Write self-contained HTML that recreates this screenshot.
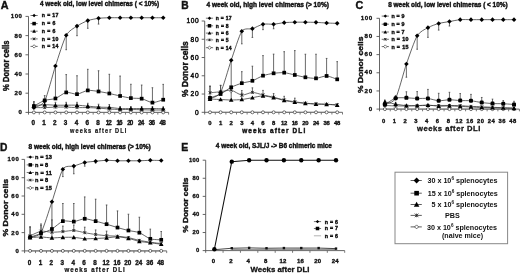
<!DOCTYPE html>
<html><head><meta charset="utf-8"><style>
html,body{margin:0;padding:0;background:#fff;}
svg{display:block;font-family:"Liberation Sans",sans-serif;will-change:transform;}
text{stroke:#111;stroke-width:0.4px;paint-order:stroke;}
</style></head><body>
<svg width="520" height="273" viewBox="0 0 520 273">
<rect width="520" height="273" fill="#fff"/>
<g>
<text x="0.8" y="8.8" font-size="10.4" font-weight="bold" text-anchor="start" fill="#111" textLength="7.8" lengthAdjust="spacingAndGlyphs" >A</text>
<text x="40" y="6.1" font-size="6.6" font-weight="bold" text-anchor="start" fill="#111" textLength="119.2" lengthAdjust="spacingAndGlyphs" >4 week old, low level chimeras ( &lt; 10%)</text>
<path d="M28.5,16.4 L28.5,114.6" stroke="#555" stroke-width="0.9" fill="none"/>
<path d="M25.5,112.4 L168.6,112.4" stroke="#555" stroke-width="0.9" fill="none"/>
<path d="M25.5,93.2 L28.5,93.2" stroke="#555" stroke-width="0.9"/>
<path d="M25.5,74 L28.5,74" stroke="#555" stroke-width="0.9"/>
<path d="M25.5,54.8 L28.5,54.8" stroke="#555" stroke-width="0.9"/>
<path d="M25.5,35.6 L28.5,35.6" stroke="#555" stroke-width="0.9"/>
<path d="M25.5,16.4 L28.5,16.4" stroke="#555" stroke-width="0.9"/>
<path d="M39.28,112.4 L39.28,114.6" stroke="#555" stroke-width="0.8"/>
<path d="M50.05,112.4 L50.05,114.6" stroke="#555" stroke-width="0.8"/>
<path d="M60.83,112.4 L60.83,114.6" stroke="#555" stroke-width="0.8"/>
<path d="M71.61,112.4 L71.61,114.6" stroke="#555" stroke-width="0.8"/>
<path d="M82.38,112.4 L82.38,114.6" stroke="#555" stroke-width="0.8"/>
<path d="M93.16,112.4 L93.16,114.6" stroke="#555" stroke-width="0.8"/>
<path d="M103.94,112.4 L103.94,114.6" stroke="#555" stroke-width="0.8"/>
<path d="M114.72,112.4 L114.72,114.6" stroke="#555" stroke-width="0.8"/>
<path d="M125.49,112.4 L125.49,114.6" stroke="#555" stroke-width="0.8"/>
<path d="M136.27,112.4 L136.27,114.6" stroke="#555" stroke-width="0.8"/>
<path d="M147.05,112.4 L147.05,114.6" stroke="#555" stroke-width="0.8"/>
<path d="M157.82,112.4 L157.82,114.6" stroke="#555" stroke-width="0.8"/>
<path d="M168.6,112.4 L168.6,114.6" stroke="#555" stroke-width="0.8"/>
<text x="21.9" y="114.4" font-size="6.1" font-weight="bold" text-anchor="end" fill="#111" textLength="3.7" lengthAdjust="spacing"  style="stroke-width:0.32px">0</text>
<text x="21.9" y="95.2" font-size="6.1" font-weight="bold" text-anchor="end" fill="#111" textLength="7.4" lengthAdjust="spacing"  style="stroke-width:0.32px">20</text>
<text x="21.9" y="76" font-size="6.1" font-weight="bold" text-anchor="end" fill="#111" textLength="7.4" lengthAdjust="spacing"  style="stroke-width:0.32px">40</text>
<text x="21.9" y="56.8" font-size="6.1" font-weight="bold" text-anchor="end" fill="#111" textLength="7.4" lengthAdjust="spacing"  style="stroke-width:0.32px">60</text>
<text x="21.9" y="37.6" font-size="6.1" font-weight="bold" text-anchor="end" fill="#111" textLength="7.4" lengthAdjust="spacing"  style="stroke-width:0.32px">80</text>
<text x="21.9" y="18.4" font-size="6.1" font-weight="bold" text-anchor="end" fill="#111" textLength="11.1" lengthAdjust="spacing"  style="stroke-width:0.32px">100</text>
<text x="33.29" y="125.4" font-size="6.3" font-weight="bold" text-anchor="middle" fill="#111" textLength="3.1" lengthAdjust="spacing"  style="stroke-width:0.35px">0</text>
<text x="44.07" y="125.4" font-size="6.3" font-weight="bold" text-anchor="middle" fill="#111" textLength="3.1" lengthAdjust="spacing"  style="stroke-width:0.35px">1</text>
<text x="54.84" y="125.4" font-size="6.3" font-weight="bold" text-anchor="middle" fill="#111" textLength="3.1" lengthAdjust="spacing"  style="stroke-width:0.35px">2</text>
<text x="65.62" y="125.4" font-size="6.3" font-weight="bold" text-anchor="middle" fill="#111" textLength="3.1" lengthAdjust="spacing"  style="stroke-width:0.35px">3</text>
<text x="76.4" y="125.4" font-size="6.3" font-weight="bold" text-anchor="middle" fill="#111" textLength="3.1" lengthAdjust="spacing"  style="stroke-width:0.35px">4</text>
<text x="87.17" y="125.4" font-size="6.3" font-weight="bold" text-anchor="middle" fill="#111" textLength="3.1" lengthAdjust="spacing"  style="stroke-width:0.35px">6</text>
<text x="97.95" y="125.4" font-size="6.3" font-weight="bold" text-anchor="middle" fill="#111" textLength="3.1" lengthAdjust="spacing"  style="stroke-width:0.35px">8</text>
<text x="108.73" y="125.4" font-size="6.3" font-weight="bold" text-anchor="middle" fill="#111" textLength="6.2" lengthAdjust="spacing"  style="stroke-width:0.35px">12</text>
<text x="119.5" y="125.4" font-size="6.3" font-weight="bold" text-anchor="middle" fill="#111" textLength="6.2" lengthAdjust="spacing"  style="stroke-width:0.35px">16</text>
<text x="130.28" y="125.4" font-size="6.3" font-weight="bold" text-anchor="middle" fill="#111" textLength="6.2" lengthAdjust="spacing"  style="stroke-width:0.35px">20</text>
<text x="141.06" y="125.4" font-size="6.3" font-weight="bold" text-anchor="middle" fill="#111" textLength="6.2" lengthAdjust="spacing"  style="stroke-width:0.35px">24</text>
<text x="151.83" y="125.4" font-size="6.3" font-weight="bold" text-anchor="middle" fill="#111" textLength="6.2" lengthAdjust="spacing"  style="stroke-width:0.35px">36</text>
<text x="162.61" y="125.4" font-size="6.3" font-weight="bold" text-anchor="middle" fill="#111" textLength="6.2" lengthAdjust="spacing"  style="stroke-width:0.35px">48</text>
<text transform="translate(8.5,65.7) rotate(-90) scale(1,1)" x="0" y="0" font-size="8.2" font-weight="bold" text-anchor="middle" fill="#111" textLength="50.4" lengthAdjust="spacingAndGlyphs">% Donor cells</text>
<text transform="translate(70.1,132.5) scale(0.85,1)" x="0" y="0" font-size="6.6" font-weight="bold" fill="#111" textLength="66" lengthAdjust="spacing" style="stroke-width:0.2px">weeks after DLI</text>
<path d="M30.5,15.5 L37.7,15.5" stroke="#444" stroke-width="0.75"/>
<path d="M34.1,13.78 L35.83,15.5 L34.1,17.23 L32.38,15.5Z" fill="#000"/>
<text x="41.8" y="17.3" font-size="5.2" font-weight="bold" text-anchor="start" fill="#111" textLength="16.7" lengthAdjust="spacing" >n = 17</text>
<path d="M30.5,23.6 L37.7,23.6" stroke="#444" stroke-width="0.75"/>
<rect x="32.34" y="21.84" width="3.52" height="3.52" fill="#000"/>
<text x="41.8" y="25.4" font-size="5.2" font-weight="bold" text-anchor="start" fill="#111" textLength="13.5" lengthAdjust="spacing" >n = 6</text>
<path d="M30.5,31.2 L37.7,31.2" stroke="#444" stroke-width="0.75"/>
<path d="M34.1,29.36 L35.94,32.67 L32.26,32.67Z" fill="#000"/>
<text x="41.8" y="33" font-size="5.2" font-weight="bold" text-anchor="start" fill="#111" textLength="13.5" lengthAdjust="spacing" >n = 6</text>
<path d="M30.5,38.9 L37.7,38.9" stroke="#444" stroke-width="0.75"/>
<path d="M32.83,37.62 L35.38,40.17 M32.83,40.17 L35.38,37.62 M34.1,37.62 L34.1,40.17" stroke="#222" stroke-width="0.8" fill="none"/>
<text x="41.8" y="40.7" font-size="5.2" font-weight="bold" text-anchor="start" fill="#111" textLength="16.7" lengthAdjust="spacing" >n = 10</text>
<path d="M30.5,46.4 L37.7,46.4" stroke="#444" stroke-width="0.75"/>
<path d="M34.1,44.7 L35.8,46.4 L34.1,48.1 L32.4,46.4Z" fill="#fff" stroke="#333" stroke-width="0.65"/>
<text x="41.8" y="48.2" font-size="5.2" font-weight="bold" text-anchor="start" fill="#111" textLength="16.7" lengthAdjust="spacing" >n = 14</text>
<path d="M33.89,105.68 L33.89,101.84 M33.09,101.84 L34.69,101.84" stroke="#444" stroke-width="0.8" fill="none"/>
<path d="M44.67,104.72 L44.67,101.84 M43.87,101.84 L45.47,101.84" stroke="#444" stroke-width="0.8" fill="none"/>
<path d="M55.44,105.2 L55.44,102.32 M54.64,102.32 L56.24,102.32" stroke="#444" stroke-width="0.8" fill="none"/>
<path d="M66.22,105.2 L66.22,102.32 M65.42,102.32 L67.02,102.32" stroke="#444" stroke-width="0.8" fill="none"/>
<path d="M77,105.2 L77,102.32 M76.2,102.32 L77.8,102.32" stroke="#444" stroke-width="0.8" fill="none"/>
<path d="M87.77,106.16 L87.77,103.28 M86.97,103.28 L88.57,103.28" stroke="#444" stroke-width="0.8" fill="none"/>
<path d="M98.55,107.12 L98.55,104.24 M97.75,104.24 L99.35,104.24" stroke="#444" stroke-width="0.8" fill="none"/>
<path d="M109.33,107.41 L109.33,104.53 M108.53,104.53 L110.13,104.53" stroke="#444" stroke-width="0.8" fill="none"/>
<path d="M120.1,108.56 L120.1,106.64 M119.3,106.64 L120.9,106.64" stroke="#444" stroke-width="0.8" fill="none"/>
<path d="M130.88,108.56 L130.88,106.64 M130.08,106.64 L131.68,106.64" stroke="#444" stroke-width="0.8" fill="none"/>
<path d="M141.66,108.56 L141.66,106.64 M140.86,106.64 L142.46,106.64" stroke="#444" stroke-width="0.8" fill="none"/>
<path d="M152.43,108.56 L152.43,106.64 M151.63,106.64 L153.23,106.64" stroke="#444" stroke-width="0.8" fill="none"/>
<path d="M163.21,108.75 L163.21,106.83 M162.41,106.83 L164.01,106.83" stroke="#444" stroke-width="0.8" fill="none"/>
<path d="M33.89,106.06 L33.89,101.74 M33.09,101.74 L34.69,101.74" stroke="#444" stroke-width="0.8" fill="none"/>
<path d="M44.67,100.4 L44.67,95.6 M43.87,95.6 L45.47,95.6" stroke="#444" stroke-width="0.8" fill="none"/>
<path d="M66.22,92.43 L66.22,74.58 M65.42,74.58 L67.02,74.58" stroke="#444" stroke-width="0.8" fill="none"/>
<path d="M77,94.16 L77,75.73 M76.2,75.73 L77.8,75.73" stroke="#444" stroke-width="0.8" fill="none"/>
<path d="M87.77,90.42 L87.77,69.3 M86.97,69.3 L88.57,69.3" stroke="#444" stroke-width="0.8" fill="none"/>
<path d="M98.55,91.47 L98.55,70.74 M97.75,70.74 L99.35,70.74" stroke="#444" stroke-width="0.8" fill="none"/>
<path d="M109.33,93.49 L109.33,74.29 M108.53,74.29 L110.13,74.29" stroke="#444" stroke-width="0.8" fill="none"/>
<path d="M120.1,95.98 L120.1,76.02 M119.3,76.02 L120.9,76.02" stroke="#444" stroke-width="0.8" fill="none"/>
<path d="M130.88,98.1 L130.88,84.27 M130.08,84.27 L131.68,84.27" stroke="#444" stroke-width="0.8" fill="none"/>
<path d="M141.66,98.67 L141.66,85.04 M140.86,85.04 L142.46,85.04" stroke="#444" stroke-width="0.8" fill="none"/>
<path d="M152.43,102.61 L152.43,87.73 M151.63,87.73 L153.23,87.73" stroke="#444" stroke-width="0.8" fill="none"/>
<path d="M163.21,99.73 L163.21,84.37 M162.41,84.37 L164.01,84.37" stroke="#444" stroke-width="0.8" fill="none"/>
<path d="M55.44,66.03 L55.44,98.67 M54.64,98.67 L56.24,98.67" stroke="#444" stroke-width="0.8" fill="none"/>
<path d="M66.22,35.31 L66.22,49.71 M65.42,49.71 L67.02,49.71" stroke="#444" stroke-width="0.8" fill="none"/>
<path d="M77,26.1 L77,35.7 M76.2,35.7 L77.8,35.7" stroke="#444" stroke-width="0.8" fill="none"/>
<path d="M87.77,20.62 L87.77,28.3 M86.97,28.3 L88.57,28.3" stroke="#444" stroke-width="0.8" fill="none"/>
<path d="M98.55,18.32 L98.55,24.08 M97.75,24.08 L99.35,24.08" stroke="#444" stroke-width="0.8" fill="none"/>
<path d="M33.89,112.4 C35.18,112.4 42.08,112.4 44.67,112.4 C47.25,112.4 52.86,112.4 55.44,112.4 C58.03,112.4 63.63,112.4 66.22,112.4 C68.81,112.4 74.41,112.4 77,112.4 C79.58,112.4 85.19,112.4 87.77,112.4 C90.36,112.4 95.96,112.4 98.55,112.4 C101.14,112.4 106.74,112.4 109.33,112.4 C111.91,112.4 117.52,112.4 120.1,112.4 C122.69,112.4 128.29,112.4 130.88,112.4 C133.47,112.4 139.07,112.4 141.66,112.4 C144.24,112.4 149.85,112.4 152.43,112.4 C155.02,112.4 161.92,112.4 163.21,112.4" stroke="#777" stroke-width="0.75" fill="none"/>
<path d="M33.89,107.6 C35.18,107.6 42.08,107.66 44.67,107.6 C47.25,107.54 52.86,107.18 55.44,107.12 C58.03,107.06 63.63,107.06 66.22,107.12 C68.81,107.18 74.41,107.54 77,107.6 C79.58,107.66 85.19,107.54 87.77,107.6 C90.36,107.66 95.96,107.91 98.55,108.08 C101.14,108.25 106.74,108.87 109.33,109.04 C111.91,109.21 117.52,109.46 120.1,109.52 C122.69,109.58 128.29,109.5 130.88,109.52 C133.47,109.54 139.07,109.65 141.66,109.71 C144.24,109.77 149.85,109.97 152.43,110 C155.02,110.03 161.92,110 163.21,110" stroke="#3a3a3a" stroke-width="0.75" fill="none"/>
<path d="M33.89,105.68 C35.18,105.56 42.08,104.78 44.67,104.72 C47.25,104.66 52.86,105.14 55.44,105.2 C58.03,105.26 63.63,105.2 66.22,105.2 C68.81,105.2 74.41,105.08 77,105.2 C79.58,105.32 85.19,105.93 87.77,106.16 C90.36,106.39 95.96,106.97 98.55,107.12 C101.14,107.27 106.74,107.24 109.33,107.41 C111.91,107.58 117.52,108.42 120.1,108.56 C122.69,108.7 128.29,108.56 130.88,108.56 C133.47,108.56 139.07,108.56 141.66,108.56 C144.24,108.56 149.85,108.54 152.43,108.56 C155.02,108.58 161.92,108.73 163.21,108.75" stroke="#333" stroke-width="0.75" fill="none"/>
<path d="M33.89,106.06 C35.18,105.38 42.08,101.31 44.67,100.4 C47.25,99.49 52.86,99.44 55.44,98.48 C58.03,97.52 63.63,92.95 66.22,92.43 C68.81,91.91 74.41,94.4 77,94.16 C79.58,93.92 85.19,90.74 87.77,90.42 C90.36,90.09 95.96,91.1 98.55,91.47 C101.14,91.84 106.74,92.95 109.33,93.49 C111.91,94.03 117.52,95.43 120.1,95.98 C122.69,96.54 128.29,97.77 130.88,98.1 C133.47,98.42 139.07,98.13 141.66,98.67 C144.24,99.21 149.85,102.48 152.43,102.61 C155.02,102.73 161.92,100.07 163.21,99.73" stroke="#333" stroke-width="0.75" fill="none"/>
<path d="M33.89,107.6 C35.18,106.82 42.08,106.06 44.67,101.07 C47.25,96.08 52.86,73.92 55.44,66.03 C58.03,58.14 63.63,40.1 66.22,35.31 C68.81,30.52 74.41,27.86 77,26.1 C79.58,24.33 85.19,21.56 87.77,20.62 C90.36,19.69 95.96,18.67 98.55,18.32 C101.14,17.97 106.74,17.81 109.33,17.74 C111.91,17.67 117.52,17.74 120.1,17.74 C122.69,17.74 128.29,17.74 130.88,17.74 C133.47,17.74 139.07,17.74 141.66,17.74 C144.24,17.74 149.85,17.74 152.43,17.74 C155.02,17.74 161.92,17.74 163.21,17.74" stroke="#333" stroke-width="0.75" fill="none"/>
<circle cx="33.89" cy="112.4" r="1.5" fill="#fff" stroke="#333" stroke-width="0.7"/>
<circle cx="44.67" cy="112.4" r="1.5" fill="#fff" stroke="#333" stroke-width="0.7"/>
<circle cx="55.44" cy="112.4" r="1.5" fill="#fff" stroke="#333" stroke-width="0.7"/>
<circle cx="66.22" cy="112.4" r="1.5" fill="#fff" stroke="#333" stroke-width="0.7"/>
<circle cx="77" cy="112.4" r="1.5" fill="#fff" stroke="#333" stroke-width="0.7"/>
<circle cx="87.77" cy="112.4" r="1.5" fill="#fff" stroke="#333" stroke-width="0.7"/>
<circle cx="98.55" cy="112.4" r="1.5" fill="#fff" stroke="#333" stroke-width="0.7"/>
<circle cx="109.33" cy="112.4" r="1.5" fill="#fff" stroke="#333" stroke-width="0.7"/>
<circle cx="120.1" cy="112.4" r="1.5" fill="#fff" stroke="#333" stroke-width="0.7"/>
<circle cx="130.88" cy="112.4" r="1.5" fill="#fff" stroke="#333" stroke-width="0.7"/>
<circle cx="141.66" cy="112.4" r="1.5" fill="#fff" stroke="#333" stroke-width="0.7"/>
<circle cx="152.43" cy="112.4" r="1.5" fill="#fff" stroke="#333" stroke-width="0.7"/>
<circle cx="163.21" cy="112.4" r="1.5" fill="#fff" stroke="#333" stroke-width="0.7"/>
<path d="M32.39,106.1 L35.39,109.1 M32.39,109.1 L35.39,106.1 M33.89,106.1 L33.89,109.1" stroke="#222" stroke-width="0.8" fill="none"/>
<path d="M43.17,106.1 L46.17,109.1 M43.17,109.1 L46.17,106.1 M44.67,106.1 L44.67,109.1" stroke="#222" stroke-width="0.8" fill="none"/>
<path d="M53.94,105.62 L56.94,108.62 M53.94,108.62 L56.94,105.62 M55.44,105.62 L55.44,108.62" stroke="#222" stroke-width="0.8" fill="none"/>
<path d="M64.72,105.62 L67.72,108.62 M64.72,108.62 L67.72,105.62 M66.22,105.62 L66.22,108.62" stroke="#222" stroke-width="0.8" fill="none"/>
<path d="M75.5,106.1 L78.5,109.1 M75.5,109.1 L78.5,106.1 M77,106.1 L77,109.1" stroke="#222" stroke-width="0.8" fill="none"/>
<path d="M86.27,106.1 L89.27,109.1 M86.27,109.1 L89.27,106.1 M87.77,106.1 L87.77,109.1" stroke="#222" stroke-width="0.8" fill="none"/>
<path d="M97.05,106.58 L100.05,109.58 M97.05,109.58 L100.05,106.58 M98.55,106.58 L98.55,109.58" stroke="#222" stroke-width="0.8" fill="none"/>
<path d="M107.83,107.54 L110.83,110.54 M107.83,110.54 L110.83,107.54 M109.33,107.54 L109.33,110.54" stroke="#222" stroke-width="0.8" fill="none"/>
<path d="M118.6,108.02 L121.6,111.02 M118.6,111.02 L121.6,108.02 M120.1,108.02 L120.1,111.02" stroke="#222" stroke-width="0.8" fill="none"/>
<path d="M129.38,108.02 L132.38,111.02 M129.38,111.02 L132.38,108.02 M130.88,108.02 L130.88,111.02" stroke="#222" stroke-width="0.8" fill="none"/>
<path d="M140.16,108.21 L143.16,111.21 M140.16,111.21 L143.16,108.21 M141.66,108.21 L141.66,111.21" stroke="#222" stroke-width="0.8" fill="none"/>
<path d="M150.93,108.5 L153.93,111.5 M150.93,111.5 L153.93,108.5 M152.43,108.5 L152.43,111.5" stroke="#222" stroke-width="0.8" fill="none"/>
<path d="M161.71,108.5 L164.71,111.5 M161.71,111.5 L164.71,108.5 M163.21,108.5 L163.21,111.5" stroke="#222" stroke-width="0.8" fill="none"/>
<path d="M33.89,103.38 L36.19,107.52 L31.59,107.52Z" fill="#000"/>
<path d="M44.67,102.42 L46.97,106.56 L42.37,106.56Z" fill="#000"/>
<path d="M55.44,102.9 L57.74,107.04 L53.14,107.04Z" fill="#000"/>
<path d="M66.22,102.9 L68.52,107.04 L63.92,107.04Z" fill="#000"/>
<path d="M77,102.9 L79.3,107.04 L74.7,107.04Z" fill="#000"/>
<path d="M87.77,103.86 L90.07,108 L85.47,108Z" fill="#000"/>
<path d="M98.55,104.82 L100.85,108.96 L96.25,108.96Z" fill="#000"/>
<path d="M109.33,105.11 L111.63,109.25 L107.03,109.25Z" fill="#000"/>
<path d="M120.1,106.26 L122.4,110.4 L117.8,110.4Z" fill="#000"/>
<path d="M130.88,106.26 L133.18,110.4 L128.58,110.4Z" fill="#000"/>
<path d="M141.66,106.26 L143.96,110.4 L139.36,110.4Z" fill="#000"/>
<path d="M152.43,106.26 L154.73,110.4 L150.13,110.4Z" fill="#000"/>
<path d="M163.21,106.45 L165.51,110.59 L160.91,110.59Z" fill="#000"/>
<rect x="32.04" y="104.21" width="3.7" height="3.7" fill="#000"/>
<rect x="42.82" y="98.55" width="3.7" height="3.7" fill="#000"/>
<rect x="53.59" y="96.63" width="3.7" height="3.7" fill="#000"/>
<rect x="64.37" y="90.58" width="3.7" height="3.7" fill="#000"/>
<rect x="75.15" y="92.31" width="3.7" height="3.7" fill="#000"/>
<rect x="85.92" y="88.57" width="3.7" height="3.7" fill="#000"/>
<rect x="96.7" y="89.62" width="3.7" height="3.7" fill="#000"/>
<rect x="107.48" y="91.64" width="3.7" height="3.7" fill="#000"/>
<rect x="118.25" y="94.13" width="3.7" height="3.7" fill="#000"/>
<rect x="129.03" y="96.25" width="3.7" height="3.7" fill="#000"/>
<rect x="139.81" y="96.82" width="3.7" height="3.7" fill="#000"/>
<rect x="150.58" y="100.76" width="3.7" height="3.7" fill="#000"/>
<rect x="161.36" y="97.88" width="3.7" height="3.7" fill="#000"/>
<path d="M33.89,105.3 L36.19,107.6 L33.89,109.9 L31.59,107.6Z" fill="#000"/>
<path d="M44.67,98.77 L46.97,101.07 L44.67,103.37 L42.37,101.07Z" fill="#000"/>
<path d="M55.44,63.73 L57.74,66.03 L55.44,68.33 L53.14,66.03Z" fill="#000"/>
<path d="M66.22,33.01 L68.52,35.31 L66.22,37.61 L63.92,35.31Z" fill="#000"/>
<path d="M77,23.8 L79.3,26.1 L77,28.4 L74.7,26.1Z" fill="#000"/>
<path d="M87.77,18.32 L90.07,20.62 L87.77,22.92 L85.47,20.62Z" fill="#000"/>
<path d="M98.55,16.02 L100.85,18.32 L98.55,20.62 L96.25,18.32Z" fill="#000"/>
<path d="M109.33,15.44 L111.63,17.74 L109.33,20.04 L107.03,17.74Z" fill="#000"/>
<path d="M120.1,15.44 L122.4,17.74 L120.1,20.04 L117.8,17.74Z" fill="#000"/>
<path d="M130.88,15.44 L133.18,17.74 L130.88,20.04 L128.58,17.74Z" fill="#000"/>
<path d="M141.66,15.44 L143.96,17.74 L141.66,20.04 L139.36,17.74Z" fill="#000"/>
<path d="M152.43,15.44 L154.73,17.74 L152.43,20.04 L150.13,17.74Z" fill="#000"/>
<path d="M163.21,15.44 L165.51,17.74 L163.21,20.04 L160.91,17.74Z" fill="#000"/>
</g>
<g>
<text x="181.2" y="8.9" font-size="10" font-weight="bold" text-anchor="start" fill="#111" textLength="7.4" lengthAdjust="spacingAndGlyphs" >B</text>
<text x="206.5" y="6.7" font-size="6.3" font-weight="bold" text-anchor="start" fill="#111" textLength="122.4" lengthAdjust="spacingAndGlyphs" >4 week old, high level chimeras (&gt; 10%)</text>
<path d="M204.7,21 L204.7,114.5" stroke="#555" stroke-width="0.9" fill="none"/>
<path d="M201.7,112.3 L342.5,112.3" stroke="#555" stroke-width="0.9" fill="none"/>
<path d="M201.7,94.04 L204.7,94.04" stroke="#555" stroke-width="0.9"/>
<path d="M201.7,75.78 L204.7,75.78" stroke="#555" stroke-width="0.9"/>
<path d="M201.7,57.52 L204.7,57.52" stroke="#555" stroke-width="0.9"/>
<path d="M201.7,39.26 L204.7,39.26" stroke="#555" stroke-width="0.9"/>
<path d="M201.7,21 L204.7,21" stroke="#555" stroke-width="0.9"/>
<path d="M215.3,112.3 L215.3,114.5" stroke="#555" stroke-width="0.8"/>
<path d="M225.9,112.3 L225.9,114.5" stroke="#555" stroke-width="0.8"/>
<path d="M236.5,112.3 L236.5,114.5" stroke="#555" stroke-width="0.8"/>
<path d="M247.1,112.3 L247.1,114.5" stroke="#555" stroke-width="0.8"/>
<path d="M257.7,112.3 L257.7,114.5" stroke="#555" stroke-width="0.8"/>
<path d="M268.3,112.3 L268.3,114.5" stroke="#555" stroke-width="0.8"/>
<path d="M278.9,112.3 L278.9,114.5" stroke="#555" stroke-width="0.8"/>
<path d="M289.5,112.3 L289.5,114.5" stroke="#555" stroke-width="0.8"/>
<path d="M300.1,112.3 L300.1,114.5" stroke="#555" stroke-width="0.8"/>
<path d="M310.7,112.3 L310.7,114.5" stroke="#555" stroke-width="0.8"/>
<path d="M321.3,112.3 L321.3,114.5" stroke="#555" stroke-width="0.8"/>
<path d="M331.9,112.3 L331.9,114.5" stroke="#555" stroke-width="0.8"/>
<path d="M342.5,112.3 L342.5,114.5" stroke="#555" stroke-width="0.8"/>
<text x="198.6" y="114.6" font-size="6.6" font-weight="normal" text-anchor="end" fill="#111" textLength="4" lengthAdjust="spacing"  style="stroke-width:0.45px">0</text>
<text x="198.6" y="96.34" font-size="6.6" font-weight="normal" text-anchor="end" fill="#111" textLength="8" lengthAdjust="spacing"  style="stroke-width:0.45px">20</text>
<text x="198.6" y="78.08" font-size="6.6" font-weight="normal" text-anchor="end" fill="#111" textLength="8" lengthAdjust="spacing"  style="stroke-width:0.45px">40</text>
<text x="198.6" y="59.82" font-size="6.6" font-weight="normal" text-anchor="end" fill="#111" textLength="8" lengthAdjust="spacing"  style="stroke-width:0.45px">60</text>
<text x="198.6" y="41.56" font-size="6.6" font-weight="normal" text-anchor="end" fill="#111" textLength="8" lengthAdjust="spacing"  style="stroke-width:0.45px">80</text>
<text x="198.6" y="23.3" font-size="6.6" font-weight="normal" text-anchor="end" fill="#111" textLength="12" lengthAdjust="spacing"  style="stroke-width:0.45px">100</text>
<text x="210" y="124.9" font-size="5.9" font-weight="bold" text-anchor="middle" fill="#111" textLength="3.1" lengthAdjust="spacing"  style="stroke-width:0.35px">0</text>
<text x="220.6" y="124.9" font-size="5.9" font-weight="bold" text-anchor="middle" fill="#111" textLength="3.1" lengthAdjust="spacing"  style="stroke-width:0.35px">1</text>
<text x="231.2" y="124.9" font-size="5.9" font-weight="bold" text-anchor="middle" fill="#111" textLength="3.1" lengthAdjust="spacing"  style="stroke-width:0.35px">2</text>
<text x="241.8" y="124.9" font-size="5.9" font-weight="bold" text-anchor="middle" fill="#111" textLength="3.1" lengthAdjust="spacing"  style="stroke-width:0.35px">3</text>
<text x="252.4" y="124.9" font-size="5.9" font-weight="bold" text-anchor="middle" fill="#111" textLength="3.1" lengthAdjust="spacing"  style="stroke-width:0.35px">4</text>
<text x="263" y="124.9" font-size="5.9" font-weight="bold" text-anchor="middle" fill="#111" textLength="3.1" lengthAdjust="spacing"  style="stroke-width:0.35px">6</text>
<text x="273.6" y="124.9" font-size="5.9" font-weight="bold" text-anchor="middle" fill="#111" textLength="3.1" lengthAdjust="spacing"  style="stroke-width:0.35px">8</text>
<text x="284.2" y="124.9" font-size="5.9" font-weight="bold" text-anchor="middle" fill="#111" textLength="6.2" lengthAdjust="spacing"  style="stroke-width:0.35px">12</text>
<text x="294.8" y="124.9" font-size="5.9" font-weight="bold" text-anchor="middle" fill="#111" textLength="6.2" lengthAdjust="spacing"  style="stroke-width:0.35px">16</text>
<text x="305.4" y="124.9" font-size="5.9" font-weight="bold" text-anchor="middle" fill="#111" textLength="6.2" lengthAdjust="spacing"  style="stroke-width:0.35px">20</text>
<text x="316" y="124.9" font-size="5.9" font-weight="bold" text-anchor="middle" fill="#111" textLength="6.2" lengthAdjust="spacing"  style="stroke-width:0.35px">24</text>
<text x="326.6" y="124.9" font-size="5.9" font-weight="bold" text-anchor="middle" fill="#111" textLength="6.2" lengthAdjust="spacing"  style="stroke-width:0.35px">36</text>
<text x="337.2" y="124.9" font-size="5.9" font-weight="bold" text-anchor="middle" fill="#111" textLength="6.2" lengthAdjust="spacing"  style="stroke-width:0.35px">48</text>
<text transform="translate(188,69.1) rotate(-90) scale(1,1)" x="0" y="0" font-size="8.2" font-weight="bold" text-anchor="middle" fill="#111" textLength="55.6" lengthAdjust="spacingAndGlyphs">% Donor cells</text>
<text transform="translate(242.2,133.3) scale(0.9,1)" x="0" y="0" font-size="7.2" font-weight="bold" fill="#111" textLength="70" lengthAdjust="spacing" style="stroke-width:0.45px">weeks after DLI</text>
<path d="M205.9,18.2 L213.1,18.2" stroke="#444" stroke-width="0.75"/>
<path d="M209.5,16.47 L211.22,18.2 L209.5,19.93 L207.78,18.2Z" fill="#000"/>
<text x="215.8" y="20" font-size="5" font-weight="bold" text-anchor="start" fill="#111" textLength="15.7" lengthAdjust="spacing" >n = 17</text>
<path d="M205.9,25.8 L213.1,25.8" stroke="#444" stroke-width="0.75"/>
<rect x="207.74" y="24.04" width="3.52" height="3.52" fill="#000"/>
<text x="215.8" y="27.6" font-size="5" font-weight="bold" text-anchor="start" fill="#111" textLength="12.8" lengthAdjust="spacing" >n = 8</text>
<path d="M205.9,33.1 L213.1,33.1" stroke="#444" stroke-width="0.75"/>
<path d="M209.5,31.26 L211.34,34.57 L207.66,34.57Z" fill="#000"/>
<text x="215.8" y="34.9" font-size="5" font-weight="bold" text-anchor="start" fill="#111" textLength="12.8" lengthAdjust="spacing" >n = 6</text>
<path d="M205.9,39.9 L213.1,39.9" stroke="#444" stroke-width="0.75"/>
<path d="M208.22,38.62 L210.78,41.17 M208.22,41.17 L210.78,38.62 M209.5,38.62 L209.5,41.17" stroke="#222" stroke-width="0.8" fill="none"/>
<text x="215.8" y="41.7" font-size="5" font-weight="bold" text-anchor="start" fill="#111" textLength="12.8" lengthAdjust="spacing" >n = 5</text>
<path d="M205.9,47.7 L213.1,47.7" stroke="#444" stroke-width="0.75"/>
<path d="M209.5,46 L211.2,47.7 L209.5,49.4 L207.8,47.7Z" fill="#fff" stroke="#333" stroke-width="0.65"/>
<text x="215.8" y="49.5" font-size="5" font-weight="bold" text-anchor="start" fill="#111" textLength="15.7" lengthAdjust="spacing" >n = 14</text>
<path d="M210,92.76 L210,86.37 M209.2,86.37 L210.8,86.37" stroke="#444" stroke-width="0.8" fill="none"/>
<path d="M220.6,91.76 L220.6,85.37 M219.8,85.37 L221.4,85.37" stroke="#444" stroke-width="0.8" fill="none"/>
<path d="M241.8,95.14 L241.8,90.57 M241,90.57 L242.6,90.57" stroke="#444" stroke-width="0.8" fill="none"/>
<path d="M252.4,92.4 L252.4,87.83 M251.6,87.83 L253.2,87.83" stroke="#444" stroke-width="0.8" fill="none"/>
<path d="M263,94.95 L263,90.39 M262.2,90.39 L263.8,90.39" stroke="#444" stroke-width="0.8" fill="none"/>
<path d="M273.6,97.24 L273.6,93.58 M272.8,93.58 L274.4,93.58" stroke="#444" stroke-width="0.8" fill="none"/>
<path d="M284.2,99.97 L284.2,96.32 M283.4,96.32 L285,96.32" stroke="#444" stroke-width="0.8" fill="none"/>
<path d="M294.8,101.8 L294.8,98.15 M294,98.15 L295.6,98.15" stroke="#444" stroke-width="0.8" fill="none"/>
<path d="M231.2,99.97 L231.2,92.67 M230.4,92.67 L232,92.67" stroke="#444" stroke-width="0.8" fill="none"/>
<path d="M241.8,99.52 L241.8,93.13 M241,93.13 L242.6,93.13" stroke="#444" stroke-width="0.8" fill="none"/>
<path d="M210,97.87 L210,86.01 M209.2,86.01 L210.8,86.01" stroke="#444" stroke-width="0.8" fill="none"/>
<path d="M220.6,94.04 L220.6,85.37 M219.8,85.37 L221.4,85.37" stroke="#444" stroke-width="0.8" fill="none"/>
<path d="M231.2,87.28 L231.2,60.81 M230.4,60.81 L232,60.81" stroke="#444" stroke-width="0.8" fill="none"/>
<path d="M241.8,83.18 L241.8,71.67 M241,71.67 L242.6,71.67" stroke="#444" stroke-width="0.8" fill="none"/>
<path d="M252.4,80.8 L252.4,66.19 M251.6,66.19 L253.2,66.19" stroke="#444" stroke-width="0.8" fill="none"/>
<path d="M263,75.69 L263,55.6 M262.2,55.6 L263.8,55.6" stroke="#444" stroke-width="0.8" fill="none"/>
<path d="M273.6,73.31 L273.6,54.14 M272.8,54.14 L274.4,54.14" stroke="#444" stroke-width="0.8" fill="none"/>
<path d="M284.2,72.68 L284.2,51.68 M283.4,51.68 L285,51.68" stroke="#444" stroke-width="0.8" fill="none"/>
<path d="M294.8,74.96 L294.8,50.58 M294,50.58 L295.6,50.58" stroke="#444" stroke-width="0.8" fill="none"/>
<path d="M305.4,77.33 L305.4,54.23 M304.6,54.23 L306.2,54.23" stroke="#444" stroke-width="0.8" fill="none"/>
<path d="M316,78.34 L316,54.23 M315.2,54.23 L316.8,54.23" stroke="#444" stroke-width="0.8" fill="none"/>
<path d="M326.6,75.96 L326.6,58.43 M325.8,58.43 L327.4,58.43" stroke="#444" stroke-width="0.8" fill="none"/>
<path d="M337.2,79.34 L337.2,61.63 M336.4,61.63 L338,61.63" stroke="#444" stroke-width="0.8" fill="none"/>
<path d="M241.8,31.32 L241.8,43.83 M241,43.83 L242.6,43.83" stroke="#444" stroke-width="0.8" fill="none"/>
<path d="M252.4,28.67 L252.4,37.43 M251.6,37.43 L253.2,37.43" stroke="#444" stroke-width="0.8" fill="none"/>
<path d="M263,24.2 L263,29.67 M262.2,29.67 L263.8,29.67" stroke="#444" stroke-width="0.8" fill="none"/>
<path d="M273.6,24.2 L273.6,28.76 M272.8,28.76 L274.4,28.76" stroke="#444" stroke-width="0.8" fill="none"/>
<path d="M210,112.3 C211.27,112.3 218.06,112.3 220.6,112.3 C223.14,112.3 228.66,112.3 231.2,112.3 C233.74,112.3 239.26,112.3 241.8,112.3 C244.34,112.3 249.86,112.3 252.4,112.3 C254.94,112.3 260.46,112.3 263,112.3 C265.54,112.3 271.06,112.3 273.6,112.3 C276.14,112.3 281.66,112.3 284.2,112.3 C286.74,112.3 292.26,112.3 294.8,112.3 C297.34,112.3 302.86,112.3 305.4,112.3 C307.94,112.3 313.46,112.3 316,112.3 C318.54,112.3 324.06,112.3 326.6,112.3 C329.14,112.3 335.93,112.3 337.2,112.3" stroke="#777" stroke-width="0.75" fill="none"/>
<path d="M210,92.76 C211.27,92.64 218.06,92.06 220.6,91.76 C223.14,91.45 228.66,89.8 231.2,90.21 C233.74,90.61 239.26,94.87 241.8,95.14 C244.34,95.4 249.86,92.42 252.4,92.4 C254.94,92.37 260.46,94.37 263,94.95 C265.54,95.53 271.06,96.63 273.6,97.24 C276.14,97.84 281.66,99.43 284.2,99.97 C286.74,100.52 292.26,101.42 294.8,101.8 C297.34,102.18 302.86,102.92 305.4,103.17 C307.94,103.42 313.46,103.77 316,103.9 C318.54,104.03 324.06,104.16 326.6,104.27 C329.14,104.38 335.93,104.75 337.2,104.81" stroke="#3a3a3a" stroke-width="0.75" fill="none"/>
<path d="M210,99.06 C211.27,99.12 218.06,99.41 220.6,99.52 C223.14,99.63 228.66,99.97 231.2,99.97 C233.74,99.97 239.26,99.79 241.8,99.52 C244.34,99.24 249.86,98.13 252.4,97.69 C254.94,97.25 260.46,95.87 263,95.87 C265.54,95.87 271.06,97.14 273.6,97.69 C276.14,98.24 281.66,99.88 284.2,100.43 C286.74,100.98 292.26,101.91 294.8,102.26 C297.34,102.61 302.86,103.13 305.4,103.35 C307.94,103.57 313.46,103.96 316,104.08 C318.54,104.2 324.06,104.24 326.6,104.36 C329.14,104.48 335.93,105 337.2,105.09" stroke="#333" stroke-width="0.75" fill="none"/>
<path d="M210,97.87 C211.27,97.41 218.06,95.31 220.6,94.04 C223.14,92.77 228.66,88.59 231.2,87.28 C233.74,85.98 239.26,83.95 241.8,83.18 C244.34,82.4 249.86,81.7 252.4,80.8 C254.94,79.9 260.46,76.59 263,75.69 C265.54,74.79 271.06,73.68 273.6,73.31 C276.14,72.95 281.66,72.48 284.2,72.68 C286.74,72.87 292.26,74.4 294.8,74.96 C297.34,75.52 302.86,76.93 305.4,77.33 C307.94,77.74 313.46,78.5 316,78.34 C318.54,78.17 324.06,75.84 326.6,75.96 C329.14,76.08 335.93,78.94 337.2,79.34" stroke="#333" stroke-width="0.75" fill="none"/>
<path d="M210,98.6 C211.27,97.86 218.06,97 220.6,92.4 C223.14,87.8 228.66,67.59 231.2,60.26 C233.74,52.93 239.26,35.11 241.8,31.32 C244.34,27.53 249.86,29.52 252.4,28.67 C254.94,27.81 260.46,24.73 263,24.2 C265.54,23.66 271.06,24.38 273.6,24.2 C276.14,24.01 281.66,22.88 284.2,22.64 C286.74,22.4 292.26,22.24 294.8,22.19 C297.34,22.13 302.86,22.16 305.4,22.19 C307.94,22.21 313.46,22.27 316,22.37 C318.54,22.47 324.06,22.89 326.6,23.01 C329.14,23.13 335.93,23.33 337.2,23.37" stroke="#333" stroke-width="0.75" fill="none"/>
<circle cx="210" cy="112.3" r="1.5" fill="#fff" stroke="#333" stroke-width="0.7"/>
<circle cx="220.6" cy="112.3" r="1.5" fill="#fff" stroke="#333" stroke-width="0.7"/>
<circle cx="231.2" cy="112.3" r="1.5" fill="#fff" stroke="#333" stroke-width="0.7"/>
<circle cx="241.8" cy="112.3" r="1.5" fill="#fff" stroke="#333" stroke-width="0.7"/>
<circle cx="252.4" cy="112.3" r="1.5" fill="#fff" stroke="#333" stroke-width="0.7"/>
<circle cx="263" cy="112.3" r="1.5" fill="#fff" stroke="#333" stroke-width="0.7"/>
<circle cx="273.6" cy="112.3" r="1.5" fill="#fff" stroke="#333" stroke-width="0.7"/>
<circle cx="284.2" cy="112.3" r="1.5" fill="#fff" stroke="#333" stroke-width="0.7"/>
<circle cx="294.8" cy="112.3" r="1.5" fill="#fff" stroke="#333" stroke-width="0.7"/>
<circle cx="305.4" cy="112.3" r="1.5" fill="#fff" stroke="#333" stroke-width="0.7"/>
<circle cx="316" cy="112.3" r="1.5" fill="#fff" stroke="#333" stroke-width="0.7"/>
<circle cx="326.6" cy="112.3" r="1.5" fill="#fff" stroke="#333" stroke-width="0.7"/>
<circle cx="337.2" cy="112.3" r="1.5" fill="#fff" stroke="#333" stroke-width="0.7"/>
<path d="M208.5,91.26 L211.5,94.26 M208.5,94.26 L211.5,91.26 M210,91.26 L210,94.26" stroke="#222" stroke-width="0.8" fill="none"/>
<path d="M219.1,90.26 L222.1,93.26 M219.1,93.26 L222.1,90.26 M220.6,90.26 L220.6,93.26" stroke="#222" stroke-width="0.8" fill="none"/>
<path d="M229.7,88.71 L232.7,91.71 M229.7,91.71 L232.7,88.71 M231.2,88.71 L231.2,91.71" stroke="#222" stroke-width="0.8" fill="none"/>
<path d="M240.3,93.64 L243.3,96.64 M240.3,96.64 L243.3,93.64 M241.8,93.64 L241.8,96.64" stroke="#222" stroke-width="0.8" fill="none"/>
<path d="M250.9,90.9 L253.9,93.9 M250.9,93.9 L253.9,90.9 M252.4,90.9 L252.4,93.9" stroke="#222" stroke-width="0.8" fill="none"/>
<path d="M261.5,93.45 L264.5,96.45 M261.5,96.45 L264.5,93.45 M263,93.45 L263,96.45" stroke="#222" stroke-width="0.8" fill="none"/>
<path d="M272.1,95.74 L275.1,98.74 M272.1,98.74 L275.1,95.74 M273.6,95.74 L273.6,98.74" stroke="#222" stroke-width="0.8" fill="none"/>
<path d="M282.7,98.47 L285.7,101.47 M282.7,101.47 L285.7,98.47 M284.2,98.47 L284.2,101.47" stroke="#222" stroke-width="0.8" fill="none"/>
<path d="M293.3,100.3 L296.3,103.3 M293.3,103.3 L296.3,100.3 M294.8,100.3 L294.8,103.3" stroke="#222" stroke-width="0.8" fill="none"/>
<path d="M303.9,101.67 L306.9,104.67 M303.9,104.67 L306.9,101.67 M305.4,101.67 L305.4,104.67" stroke="#222" stroke-width="0.8" fill="none"/>
<path d="M314.5,102.4 L317.5,105.4 M314.5,105.4 L317.5,102.4 M316,102.4 L316,105.4" stroke="#222" stroke-width="0.8" fill="none"/>
<path d="M325.1,102.77 L328.1,105.77 M325.1,105.77 L328.1,102.77 M326.6,102.77 L326.6,105.77" stroke="#222" stroke-width="0.8" fill="none"/>
<path d="M335.7,103.31 L338.7,106.31 M335.7,106.31 L338.7,103.31 M337.2,103.31 L337.2,106.31" stroke="#222" stroke-width="0.8" fill="none"/>
<path d="M210,96.76 L212.3,100.9 L207.7,100.9Z" fill="#000"/>
<path d="M220.6,97.22 L222.9,101.36 L218.3,101.36Z" fill="#000"/>
<path d="M231.2,97.67 L233.5,101.81 L228.9,101.81Z" fill="#000"/>
<path d="M241.8,97.22 L244.1,101.36 L239.5,101.36Z" fill="#000"/>
<path d="M252.4,95.39 L254.7,99.53 L250.1,99.53Z" fill="#000"/>
<path d="M263,93.57 L265.3,97.71 L260.7,97.71Z" fill="#000"/>
<path d="M273.6,95.39 L275.9,99.53 L271.3,99.53Z" fill="#000"/>
<path d="M284.2,98.13 L286.5,102.27 L281.9,102.27Z" fill="#000"/>
<path d="M294.8,99.96 L297.1,104.1 L292.5,104.1Z" fill="#000"/>
<path d="M305.4,101.05 L307.7,105.19 L303.1,105.19Z" fill="#000"/>
<path d="M316,101.78 L318.3,105.92 L313.7,105.92Z" fill="#000"/>
<path d="M326.6,102.06 L328.9,106.2 L324.3,106.2Z" fill="#000"/>
<path d="M337.2,102.79 L339.5,106.93 L334.9,106.93Z" fill="#000"/>
<rect x="208.15" y="96.02" width="3.7" height="3.7" fill="#000"/>
<rect x="218.75" y="92.19" width="3.7" height="3.7" fill="#000"/>
<rect x="229.35" y="85.43" width="3.7" height="3.7" fill="#000"/>
<rect x="239.95" y="81.33" width="3.7" height="3.7" fill="#000"/>
<rect x="250.55" y="78.95" width="3.7" height="3.7" fill="#000"/>
<rect x="261.15" y="73.84" width="3.7" height="3.7" fill="#000"/>
<rect x="271.75" y="71.46" width="3.7" height="3.7" fill="#000"/>
<rect x="282.35" y="70.83" width="3.7" height="3.7" fill="#000"/>
<rect x="292.95" y="73.11" width="3.7" height="3.7" fill="#000"/>
<rect x="303.55" y="75.48" width="3.7" height="3.7" fill="#000"/>
<rect x="314.15" y="76.49" width="3.7" height="3.7" fill="#000"/>
<rect x="324.75" y="74.11" width="3.7" height="3.7" fill="#000"/>
<rect x="335.35" y="77.49" width="3.7" height="3.7" fill="#000"/>
<path d="M210,96.3 L212.3,98.6 L210,100.9 L207.7,98.6Z" fill="#000"/>
<path d="M220.6,90.1 L222.9,92.4 L220.6,94.7 L218.3,92.4Z" fill="#000"/>
<path d="M231.2,57.96 L233.5,60.26 L231.2,62.56 L228.9,60.26Z" fill="#000"/>
<path d="M241.8,29.02 L244.1,31.32 L241.8,33.62 L239.5,31.32Z" fill="#000"/>
<path d="M252.4,26.37 L254.7,28.67 L252.4,30.97 L250.1,28.67Z" fill="#000"/>
<path d="M263,21.9 L265.3,24.2 L263,26.5 L260.7,24.2Z" fill="#000"/>
<path d="M273.6,21.9 L275.9,24.2 L273.6,26.5 L271.3,24.2Z" fill="#000"/>
<path d="M284.2,20.34 L286.5,22.64 L284.2,24.94 L281.9,22.64Z" fill="#000"/>
<path d="M294.8,19.89 L297.1,22.19 L294.8,24.49 L292.5,22.19Z" fill="#000"/>
<path d="M305.4,19.89 L307.7,22.19 L305.4,24.49 L303.1,22.19Z" fill="#000"/>
<path d="M316,20.07 L318.3,22.37 L316,24.67 L313.7,22.37Z" fill="#000"/>
<path d="M326.6,20.71 L328.9,23.01 L326.6,25.31 L324.3,23.01Z" fill="#000"/>
<path d="M337.2,21.07 L339.5,23.37 L337.2,25.67 L334.9,23.37Z" fill="#000"/>
</g>
<g>
<text x="355.4" y="8.9" font-size="10.4" font-weight="bold" text-anchor="start" fill="#111" textLength="7.8" lengthAdjust="spacingAndGlyphs" >C</text>
<text x="388.2" y="6.7" font-size="6.3" font-weight="bold" text-anchor="start" fill="#111" textLength="119.5" lengthAdjust="spacingAndGlyphs" >8 week old, low level chimeras ( &lt; 10%)</text>
<path d="M379.5,18.3 L379.5,111.3" stroke="#555" stroke-width="0.9" fill="none"/>
<path d="M376.5,109.1 L519.4,109.1" stroke="#555" stroke-width="0.9" fill="none"/>
<path d="M376.5,90.94 L379.5,90.94" stroke="#555" stroke-width="0.9"/>
<path d="M376.5,72.78 L379.5,72.78" stroke="#555" stroke-width="0.9"/>
<path d="M376.5,54.62 L379.5,54.62" stroke="#555" stroke-width="0.9"/>
<path d="M376.5,36.46 L379.5,36.46" stroke="#555" stroke-width="0.9"/>
<path d="M376.5,18.3 L379.5,18.3" stroke="#555" stroke-width="0.9"/>
<path d="M390.26,109.1 L390.26,111.3" stroke="#555" stroke-width="0.8"/>
<path d="M401.02,109.1 L401.02,111.3" stroke="#555" stroke-width="0.8"/>
<path d="M411.78,109.1 L411.78,111.3" stroke="#555" stroke-width="0.8"/>
<path d="M422.55,109.1 L422.55,111.3" stroke="#555" stroke-width="0.8"/>
<path d="M433.31,109.1 L433.31,111.3" stroke="#555" stroke-width="0.8"/>
<path d="M444.07,109.1 L444.07,111.3" stroke="#555" stroke-width="0.8"/>
<path d="M454.83,109.1 L454.83,111.3" stroke="#555" stroke-width="0.8"/>
<path d="M465.59,109.1 L465.59,111.3" stroke="#555" stroke-width="0.8"/>
<path d="M476.35,109.1 L476.35,111.3" stroke="#555" stroke-width="0.8"/>
<path d="M487.12,109.1 L487.12,111.3" stroke="#555" stroke-width="0.8"/>
<path d="M497.88,109.1 L497.88,111.3" stroke="#555" stroke-width="0.8"/>
<path d="M508.64,109.1 L508.64,111.3" stroke="#555" stroke-width="0.8"/>
<path d="M519.4,109.1 L519.4,111.3" stroke="#555" stroke-width="0.8"/>
<text x="372.1" y="110.7" font-size="6.2" font-weight="bold" text-anchor="end" fill="#111" textLength="3.75" lengthAdjust="spacing"  style="stroke-width:0.32px">0</text>
<text x="372.1" y="92.54" font-size="6.2" font-weight="bold" text-anchor="end" fill="#111" textLength="7.5" lengthAdjust="spacing"  style="stroke-width:0.32px">20</text>
<text x="372.1" y="74.38" font-size="6.2" font-weight="bold" text-anchor="end" fill="#111" textLength="7.5" lengthAdjust="spacing"  style="stroke-width:0.32px">40</text>
<text x="372.1" y="56.22" font-size="6.2" font-weight="bold" text-anchor="end" fill="#111" textLength="7.5" lengthAdjust="spacing"  style="stroke-width:0.32px">60</text>
<text x="372.1" y="38.06" font-size="6.2" font-weight="bold" text-anchor="end" fill="#111" textLength="7.5" lengthAdjust="spacing"  style="stroke-width:0.32px">80</text>
<text x="372.1" y="19.9" font-size="6.2" font-weight="bold" text-anchor="end" fill="#111" textLength="11.25" lengthAdjust="spacing"  style="stroke-width:0.32px">100</text>
<text x="383.68" y="123.2" font-size="5.8" font-weight="bold" text-anchor="middle" fill="#111" textLength="3.45" lengthAdjust="spacing"  style="stroke-width:0.35px">0</text>
<text x="394.44" y="123.2" font-size="5.8" font-weight="bold" text-anchor="middle" fill="#111" textLength="3.45" lengthAdjust="spacing"  style="stroke-width:0.35px">1</text>
<text x="405.2" y="123.2" font-size="5.8" font-weight="bold" text-anchor="middle" fill="#111" textLength="3.45" lengthAdjust="spacing"  style="stroke-width:0.35px">2</text>
<text x="415.97" y="123.2" font-size="5.8" font-weight="bold" text-anchor="middle" fill="#111" textLength="3.45" lengthAdjust="spacing"  style="stroke-width:0.35px">3</text>
<text x="426.73" y="123.2" font-size="5.8" font-weight="bold" text-anchor="middle" fill="#111" textLength="3.45" lengthAdjust="spacing"  style="stroke-width:0.35px">4</text>
<text x="437.49" y="123.2" font-size="5.8" font-weight="bold" text-anchor="middle" fill="#111" textLength="3.45" lengthAdjust="spacing"  style="stroke-width:0.35px">6</text>
<text x="448.25" y="123.2" font-size="5.8" font-weight="bold" text-anchor="middle" fill="#111" textLength="3.45" lengthAdjust="spacing"  style="stroke-width:0.35px">8</text>
<text x="459.01" y="123.2" font-size="5.8" font-weight="bold" text-anchor="middle" fill="#111" textLength="6.9" lengthAdjust="spacing"  style="stroke-width:0.35px">12</text>
<text x="469.77" y="123.2" font-size="5.8" font-weight="bold" text-anchor="middle" fill="#111" textLength="6.9" lengthAdjust="spacing"  style="stroke-width:0.35px">16</text>
<text x="480.53" y="123.2" font-size="5.8" font-weight="bold" text-anchor="middle" fill="#111" textLength="6.9" lengthAdjust="spacing"  style="stroke-width:0.35px">20</text>
<text x="491.3" y="123.2" font-size="5.8" font-weight="bold" text-anchor="middle" fill="#111" textLength="6.9" lengthAdjust="spacing"  style="stroke-width:0.35px">24</text>
<text x="502.06" y="123.2" font-size="5.8" font-weight="bold" text-anchor="middle" fill="#111" textLength="6.9" lengthAdjust="spacing"  style="stroke-width:0.35px">36</text>
<text x="512.82" y="123.2" font-size="5.8" font-weight="bold" text-anchor="middle" fill="#111" textLength="6.9" lengthAdjust="spacing"  style="stroke-width:0.35px">48</text>
<text transform="translate(362.5,64.8) rotate(-90) scale(1,1)" x="0" y="0" font-size="8" font-weight="bold" text-anchor="middle" fill="#111" textLength="56.4" lengthAdjust="spacingAndGlyphs">% Donor cells</text>
<text transform="translate(417.1,130.7) scale(1,1)" x="0" y="0" font-size="7.6" font-weight="bold" fill="#111" textLength="63.3" lengthAdjust="spacing" style="stroke-width:0.3px">weeks after DLI</text>
<path d="M381.7,16.1 L388.9,16.1" stroke="#444" stroke-width="0.75"/>
<path d="M385.3,14.38 L387.03,16.1 L385.3,17.83 L383.57,16.1Z" fill="#000"/>
<text x="391.4" y="18" font-size="5.3" font-weight="bold" text-anchor="start" fill="#111" textLength="13.1" lengthAdjust="spacing" >n = 9</text>
<path d="M381.7,24.2 L388.9,24.2" stroke="#444" stroke-width="0.75"/>
<rect x="383.5" y="22.39" width="3.61" height="3.61" rx="1.08" fill="#000"/>
<text x="391.4" y="26.1" font-size="5.3" font-weight="bold" text-anchor="start" fill="#111" textLength="13.1" lengthAdjust="spacing" >n = 9</text>
<path d="M381.7,32 L388.9,32" stroke="#444" stroke-width="0.75"/>
<path d="M385.3,30.16 L387.14,33.47 L383.46,33.47Z" fill="#000"/>
<text x="391.4" y="33.9" font-size="5.3" font-weight="bold" text-anchor="start" fill="#111" textLength="13.1" lengthAdjust="spacing" >n = 7</text>
<path d="M381.7,39.3 L388.9,39.3" stroke="#444" stroke-width="0.75"/>
<path d="M384.03,38.02 L386.57,40.57 M384.03,40.57 L386.57,38.02 M385.3,38.02 L385.3,40.57" stroke="#222" stroke-width="0.8" fill="none"/>
<text x="391.4" y="41.2" font-size="5.3" font-weight="bold" text-anchor="start" fill="#111" textLength="17" lengthAdjust="spacing" >n = 10</text>
<path d="M381.7,46.6 L388.9,46.6" stroke="#444" stroke-width="0.75"/>
<path d="M385.3,44.9 L387,46.6 L385.3,48.3 L383.6,46.6Z" fill="#fff" stroke="#333" stroke-width="0.65"/>
<text x="391.4" y="48.5" font-size="5.3" font-weight="bold" text-anchor="start" fill="#111" textLength="17" lengthAdjust="spacing" >n = 15</text>
<path d="M384.88,101.84 L384.88,100.02 M384.08,100.02 L385.68,100.02" stroke="#444" stroke-width="0.8" fill="none"/>
<path d="M395.64,104.11 L395.64,102.29 M394.84,102.29 L396.44,102.29" stroke="#444" stroke-width="0.8" fill="none"/>
<path d="M384.88,104.56 L384.88,101.84 M384.08,101.84 L385.68,101.84" stroke="#444" stroke-width="0.8" fill="none"/>
<path d="M395.64,98.2 L395.64,95.48 M394.84,95.48 L396.44,95.48" stroke="#444" stroke-width="0.8" fill="none"/>
<path d="M406.4,97.84 L406.4,91.76 M405.6,91.76 L407.2,91.76" stroke="#444" stroke-width="0.8" fill="none"/>
<path d="M417.17,98.48 L417.17,91.58 M416.37,91.58 L417.97,91.58" stroke="#444" stroke-width="0.8" fill="none"/>
<path d="M427.93,98.48 L427.93,89.4 M427.13,89.4 L428.73,89.4" stroke="#444" stroke-width="0.8" fill="none"/>
<path d="M438.69,100.75 L438.69,93.3 M437.89,93.3 L439.49,93.3" stroke="#444" stroke-width="0.8" fill="none"/>
<path d="M449.45,99.75 L449.45,92.3 M448.65,92.3 L450.25,92.3" stroke="#444" stroke-width="0.8" fill="none"/>
<path d="M460.21,100.56 L460.21,93.57 M459.41,93.57 L461.01,93.57" stroke="#444" stroke-width="0.8" fill="none"/>
<path d="M470.97,100.75 L470.97,94.39 M470.17,94.39 L471.77,94.39" stroke="#444" stroke-width="0.8" fill="none"/>
<path d="M481.73,102.56 L481.73,97.48 M480.93,97.48 L482.53,97.48" stroke="#444" stroke-width="0.8" fill="none"/>
<path d="M492.5,103.56 L492.5,99.11 M491.7,99.11 L493.3,99.11" stroke="#444" stroke-width="0.8" fill="none"/>
<path d="M503.26,103.74 L503.26,100.56 M502.46,100.56 L504.06,100.56" stroke="#444" stroke-width="0.8" fill="none"/>
<path d="M514.02,104.47 L514.02,101.29 M513.22,101.29 L514.82,101.29" stroke="#444" stroke-width="0.8" fill="none"/>
<path d="M406.4,64.06 L406.4,77.23 M405.6,77.23 L407.2,77.23" stroke="#444" stroke-width="0.8" fill="none"/>
<path d="M417.17,35.82 L417.17,49.26 M416.37,49.26 L417.97,49.26" stroke="#444" stroke-width="0.8" fill="none"/>
<path d="M427.93,27.65 L427.93,37.37 M427.13,37.37 L428.73,37.37" stroke="#444" stroke-width="0.8" fill="none"/>
<path d="M438.69,23.48 L438.69,30.1 M437.89,30.1 L439.49,30.1" stroke="#444" stroke-width="0.8" fill="none"/>
<path d="M449.45,21.57 L449.45,26.02 M448.65,26.02 L450.25,26.02" stroke="#444" stroke-width="0.8" fill="none"/>
<path d="M384.88,109.1 C386.17,109.1 393.06,109.1 395.64,109.1 C398.23,109.1 403.82,109.1 406.4,109.1 C408.99,109.1 414.58,109.1 417.17,109.1 C419.75,109.1 425.34,109.1 427.93,109.1 C430.51,109.1 436.11,109.1 438.69,109.1 C441.27,109.1 446.87,109.1 449.45,109.1 C452.03,109.1 457.63,109.1 460.21,109.1 C462.79,109.1 468.39,109.1 470.97,109.1 C473.56,109.1 479.15,109.1 481.73,109.1 C484.32,109.1 489.91,109.1 492.5,109.1 C495.08,109.1 500.67,109.1 503.26,109.1 C505.84,109.1 512.73,109.1 514.02,109.1" stroke="#777" stroke-width="0.75" fill="none"/>
<path d="M384.88,105.47 C386.17,105.52 393.06,105.87 395.64,105.92 C398.23,105.98 403.82,105.95 406.4,105.92 C408.99,105.89 414.58,105.7 417.17,105.65 C419.75,105.6 425.34,105.49 427.93,105.47 C430.51,105.45 436.11,105.47 438.69,105.47 C441.27,105.47 446.87,105.45 449.45,105.47 C452.03,105.49 457.63,105.54 460.21,105.65 C462.79,105.76 468.39,106.23 470.97,106.38 C473.56,106.52 479.15,106.72 481.73,106.83 C484.32,106.94 489.91,107.18 492.5,107.28 C495.08,107.39 500.67,107.65 503.26,107.74 C505.84,107.83 512.73,107.98 514.02,108.01" stroke="#3a3a3a" stroke-width="0.75" fill="none"/>
<path d="M384.88,101.84 C386.17,102.11 393.06,103.65 395.64,104.11 C398.23,104.56 403.82,105.46 406.4,105.65 C408.99,105.83 414.58,105.71 417.17,105.65 C419.75,105.58 425.34,105.04 427.93,105.1 C430.51,105.17 436.11,106.1 438.69,106.19 C441.27,106.29 446.87,105.9 449.45,105.92 C452.03,105.94 457.63,106.25 460.21,106.38 C462.79,106.51 468.39,106.88 470.97,107.01 C473.56,107.14 479.15,107.38 481.73,107.47 C484.32,107.55 489.91,107.67 492.5,107.74 C495.08,107.8 500.67,107.93 503.26,108.01 C505.84,108.09 512.73,108.33 514.02,108.37" stroke="#333" stroke-width="0.75" fill="none"/>
<path d="M384.88,104.56 C386.17,103.8 393.06,99.01 395.64,98.2 C398.23,97.4 403.82,97.81 406.4,97.84 C408.99,97.87 414.58,98.4 417.17,98.48 C419.75,98.55 425.34,98.2 427.93,98.48 C430.51,98.75 436.11,100.59 438.69,100.75 C441.27,100.9 446.87,99.77 449.45,99.75 C452.03,99.73 457.63,100.44 460.21,100.56 C462.79,100.68 468.39,100.51 470.97,100.75 C473.56,100.99 479.15,102.22 481.73,102.56 C484.32,102.9 489.91,103.42 492.5,103.56 C495.08,103.7 500.67,103.63 503.26,103.74 C505.84,103.85 512.73,104.38 514.02,104.47" stroke="#333" stroke-width="0.75" fill="none"/>
<path d="M384.88,104.56 C386.17,103.8 393.06,103.06 395.64,98.2 C398.23,93.34 403.82,71.55 406.4,64.06 C408.99,56.58 414.58,40.19 417.17,35.82 C419.75,31.46 425.34,29.13 427.93,27.65 C430.51,26.17 436.11,24.21 438.69,23.48 C441.27,22.75 446.87,22.03 449.45,21.57 C452.03,21.11 457.63,19.89 460.21,19.66 C462.79,19.43 468.39,19.66 470.97,19.66 C473.56,19.66 479.15,19.66 481.73,19.66 C484.32,19.66 489.91,19.66 492.5,19.66 C495.08,19.66 500.67,19.66 503.26,19.66 C505.84,19.66 512.73,19.66 514.02,19.66" stroke="#333" stroke-width="0.75" fill="none"/>
<circle cx="384.88" cy="109.1" r="1.5" fill="#fff" stroke="#333" stroke-width="0.7"/>
<circle cx="395.64" cy="109.1" r="1.5" fill="#fff" stroke="#333" stroke-width="0.7"/>
<circle cx="406.4" cy="109.1" r="1.5" fill="#fff" stroke="#333" stroke-width="0.7"/>
<circle cx="417.17" cy="109.1" r="1.5" fill="#fff" stroke="#333" stroke-width="0.7"/>
<circle cx="427.93" cy="109.1" r="1.5" fill="#fff" stroke="#333" stroke-width="0.7"/>
<circle cx="438.69" cy="109.1" r="1.5" fill="#fff" stroke="#333" stroke-width="0.7"/>
<circle cx="449.45" cy="109.1" r="1.5" fill="#fff" stroke="#333" stroke-width="0.7"/>
<circle cx="460.21" cy="109.1" r="1.5" fill="#fff" stroke="#333" stroke-width="0.7"/>
<circle cx="470.97" cy="109.1" r="1.5" fill="#fff" stroke="#333" stroke-width="0.7"/>
<circle cx="481.73" cy="109.1" r="1.5" fill="#fff" stroke="#333" stroke-width="0.7"/>
<circle cx="492.5" cy="109.1" r="1.5" fill="#fff" stroke="#333" stroke-width="0.7"/>
<circle cx="503.26" cy="109.1" r="1.5" fill="#fff" stroke="#333" stroke-width="0.7"/>
<circle cx="514.02" cy="109.1" r="1.5" fill="#fff" stroke="#333" stroke-width="0.7"/>
<path d="M383.38,103.97 L386.38,106.97 M383.38,106.97 L386.38,103.97 M384.88,103.97 L384.88,106.97" stroke="#222" stroke-width="0.8" fill="none"/>
<path d="M394.14,104.42 L397.14,107.42 M394.14,107.42 L397.14,104.42 M395.64,104.42 L395.64,107.42" stroke="#222" stroke-width="0.8" fill="none"/>
<path d="M404.9,104.42 L407.9,107.42 M404.9,107.42 L407.9,104.42 M406.4,104.42 L406.4,107.42" stroke="#222" stroke-width="0.8" fill="none"/>
<path d="M415.67,104.15 L418.67,107.15 M415.67,107.15 L418.67,104.15 M417.17,104.15 L417.17,107.15" stroke="#222" stroke-width="0.8" fill="none"/>
<path d="M426.43,103.97 L429.43,106.97 M426.43,106.97 L429.43,103.97 M427.93,103.97 L427.93,106.97" stroke="#222" stroke-width="0.8" fill="none"/>
<path d="M437.19,103.97 L440.19,106.97 M437.19,106.97 L440.19,103.97 M438.69,103.97 L438.69,106.97" stroke="#222" stroke-width="0.8" fill="none"/>
<path d="M447.95,103.97 L450.95,106.97 M447.95,106.97 L450.95,103.97 M449.45,103.97 L449.45,106.97" stroke="#222" stroke-width="0.8" fill="none"/>
<path d="M458.71,104.15 L461.71,107.15 M458.71,107.15 L461.71,104.15 M460.21,104.15 L460.21,107.15" stroke="#222" stroke-width="0.8" fill="none"/>
<path d="M469.47,104.88 L472.47,107.88 M469.47,107.88 L472.47,104.88 M470.97,104.88 L470.97,107.88" stroke="#222" stroke-width="0.8" fill="none"/>
<path d="M480.23,105.33 L483.23,108.33 M480.23,108.33 L483.23,105.33 M481.73,105.33 L481.73,108.33" stroke="#222" stroke-width="0.8" fill="none"/>
<path d="M491,105.78 L494,108.78 M491,108.78 L494,105.78 M492.5,105.78 L492.5,108.78" stroke="#222" stroke-width="0.8" fill="none"/>
<path d="M501.76,106.24 L504.76,109.24 M501.76,109.24 L504.76,106.24 M503.26,106.24 L503.26,109.24" stroke="#222" stroke-width="0.8" fill="none"/>
<path d="M512.52,106.51 L515.52,109.51 M512.52,109.51 L515.52,106.51 M514.02,106.51 L514.02,109.51" stroke="#222" stroke-width="0.8" fill="none"/>
<path d="M384.88,99.54 L387.18,103.68 L382.58,103.68Z" fill="#000"/>
<path d="M395.64,101.81 L397.94,105.95 L393.34,105.95Z" fill="#000"/>
<path d="M406.4,103.35 L408.7,107.49 L404.1,107.49Z" fill="#000"/>
<path d="M417.17,103.35 L419.47,107.49 L414.87,107.49Z" fill="#000"/>
<path d="M427.93,102.8 L430.23,106.94 L425.63,106.94Z" fill="#000"/>
<path d="M438.69,103.89 L440.99,108.03 L436.39,108.03Z" fill="#000"/>
<path d="M449.45,103.62 L451.75,107.76 L447.15,107.76Z" fill="#000"/>
<path d="M460.21,104.08 L462.51,108.22 L457.91,108.22Z" fill="#000"/>
<path d="M470.97,104.71 L473.27,108.85 L468.67,108.85Z" fill="#000"/>
<path d="M481.73,105.17 L484.03,109.31 L479.43,109.31Z" fill="#000"/>
<path d="M492.5,105.44 L494.8,109.58 L490.2,109.58Z" fill="#000"/>
<path d="M503.26,105.71 L505.56,109.85 L500.96,109.85Z" fill="#000"/>
<path d="M514.02,106.07 L516.32,110.21 L511.72,110.21Z" fill="#000"/>
<rect x="382.89" y="102.56" width="3.99" height="3.99" rx="1.2" fill="#000"/>
<rect x="393.65" y="96.21" width="3.99" height="3.99" rx="1.2" fill="#000"/>
<rect x="404.41" y="95.85" width="3.99" height="3.99" rx="1.2" fill="#000"/>
<rect x="415.17" y="96.48" width="3.99" height="3.99" rx="1.2" fill="#000"/>
<rect x="425.93" y="96.48" width="3.99" height="3.99" rx="1.2" fill="#000"/>
<rect x="436.69" y="98.75" width="3.99" height="3.99" rx="1.2" fill="#000"/>
<rect x="447.45" y="97.75" width="3.99" height="3.99" rx="1.2" fill="#000"/>
<rect x="458.22" y="98.57" width="3.99" height="3.99" rx="1.2" fill="#000"/>
<rect x="468.98" y="98.75" width="3.99" height="3.99" rx="1.2" fill="#000"/>
<rect x="479.74" y="100.57" width="3.99" height="3.99" rx="1.2" fill="#000"/>
<rect x="490.5" y="101.57" width="3.99" height="3.99" rx="1.2" fill="#000"/>
<rect x="501.26" y="101.75" width="3.99" height="3.99" rx="1.2" fill="#000"/>
<rect x="512.02" y="102.47" width="3.99" height="3.99" rx="1.2" fill="#000"/>
<path d="M384.88,102.26 L387.18,104.56 L384.88,106.86 L382.58,104.56Z" fill="#000"/>
<path d="M395.64,95.9 L397.94,98.2 L395.64,100.5 L393.34,98.2Z" fill="#000"/>
<path d="M406.4,61.76 L408.7,64.06 L406.4,66.36 L404.1,64.06Z" fill="#000"/>
<path d="M417.17,33.52 L419.47,35.82 L417.17,38.12 L414.87,35.82Z" fill="#000"/>
<path d="M427.93,25.35 L430.23,27.65 L427.93,29.95 L425.63,27.65Z" fill="#000"/>
<path d="M438.69,21.18 L440.99,23.48 L438.69,25.78 L436.39,23.48Z" fill="#000"/>
<path d="M449.45,19.27 L451.75,21.57 L449.45,23.87 L447.15,21.57Z" fill="#000"/>
<path d="M460.21,17.36 L462.51,19.66 L460.21,21.96 L457.91,19.66Z" fill="#000"/>
<path d="M470.97,17.36 L473.27,19.66 L470.97,21.96 L468.67,19.66Z" fill="#000"/>
<path d="M481.73,17.36 L484.03,19.66 L481.73,21.96 L479.43,19.66Z" fill="#000"/>
<path d="M492.5,17.36 L494.8,19.66 L492.5,21.96 L490.2,19.66Z" fill="#000"/>
<path d="M503.26,17.36 L505.56,19.66 L503.26,21.96 L500.96,19.66Z" fill="#000"/>
<path d="M514.02,17.36 L516.32,19.66 L514.02,21.96 L511.72,19.66Z" fill="#000"/>
</g>
<g>
<text x="0" y="150.6" font-size="10.4" font-weight="bold" text-anchor="start" fill="#111" textLength="7.4" lengthAdjust="spacingAndGlyphs" >D</text>
<text x="28.5" y="148.7" font-size="6.3" font-weight="bold" text-anchor="start" fill="#111" textLength="122.3" lengthAdjust="spacingAndGlyphs" >8 week old, high level chimeras (&gt; 10%)</text>
<path d="M24.6,159.4 L24.6,253.1" stroke="#555" stroke-width="0.9" fill="none"/>
<path d="M21.6,250.9 L166.7,250.9" stroke="#555" stroke-width="0.9" fill="none"/>
<path d="M21.6,232.6 L24.6,232.6" stroke="#555" stroke-width="0.9"/>
<path d="M21.6,214.3 L24.6,214.3" stroke="#555" stroke-width="0.9"/>
<path d="M21.6,196 L24.6,196" stroke="#555" stroke-width="0.9"/>
<path d="M21.6,177.7 L24.6,177.7" stroke="#555" stroke-width="0.9"/>
<path d="M21.6,159.4 L24.6,159.4" stroke="#555" stroke-width="0.9"/>
<path d="M35.53,250.9 L35.53,253.1" stroke="#555" stroke-width="0.8"/>
<path d="M46.46,250.9 L46.46,253.1" stroke="#555" stroke-width="0.8"/>
<path d="M57.39,250.9 L57.39,253.1" stroke="#555" stroke-width="0.8"/>
<path d="M68.32,250.9 L68.32,253.1" stroke="#555" stroke-width="0.8"/>
<path d="M79.25,250.9 L79.25,253.1" stroke="#555" stroke-width="0.8"/>
<path d="M90.18,250.9 L90.18,253.1" stroke="#555" stroke-width="0.8"/>
<path d="M101.12,250.9 L101.12,253.1" stroke="#555" stroke-width="0.8"/>
<path d="M112.05,250.9 L112.05,253.1" stroke="#555" stroke-width="0.8"/>
<path d="M122.98,250.9 L122.98,253.1" stroke="#555" stroke-width="0.8"/>
<path d="M133.91,250.9 L133.91,253.1" stroke="#555" stroke-width="0.8"/>
<path d="M144.84,250.9 L144.84,253.1" stroke="#555" stroke-width="0.8"/>
<path d="M155.77,250.9 L155.77,253.1" stroke="#555" stroke-width="0.8"/>
<path d="M166.7,250.9 L166.7,253.1" stroke="#555" stroke-width="0.8"/>
<text x="18.9" y="252.9" font-size="6" font-weight="bold" text-anchor="end" fill="#111" textLength="3.8" lengthAdjust="spacing"  style="stroke-width:0.32px">0</text>
<text x="18.9" y="234.6" font-size="6" font-weight="bold" text-anchor="end" fill="#111" textLength="7.6" lengthAdjust="spacing"  style="stroke-width:0.32px">20</text>
<text x="18.9" y="216.3" font-size="6" font-weight="bold" text-anchor="end" fill="#111" textLength="7.6" lengthAdjust="spacing"  style="stroke-width:0.32px">40</text>
<text x="18.9" y="198" font-size="6" font-weight="bold" text-anchor="end" fill="#111" textLength="7.6" lengthAdjust="spacing"  style="stroke-width:0.32px">60</text>
<text x="18.9" y="179.7" font-size="6" font-weight="bold" text-anchor="end" fill="#111" textLength="7.6" lengthAdjust="spacing"  style="stroke-width:0.32px">80</text>
<text x="18.9" y="161.4" font-size="6" font-weight="bold" text-anchor="end" fill="#111" textLength="11.4" lengthAdjust="spacing"  style="stroke-width:0.32px">100</text>
<text x="29.47" y="265.2" font-size="6.3" font-weight="bold" text-anchor="middle" fill="#111" textLength="3.5" lengthAdjust="spacing"  style="stroke-width:0.35px">0</text>
<text x="40.4" y="265.2" font-size="6.3" font-weight="bold" text-anchor="middle" fill="#111" textLength="3.5" lengthAdjust="spacing"  style="stroke-width:0.35px">1</text>
<text x="51.33" y="265.2" font-size="6.3" font-weight="bold" text-anchor="middle" fill="#111" textLength="3.5" lengthAdjust="spacing"  style="stroke-width:0.35px">2</text>
<text x="62.26" y="265.2" font-size="6.3" font-weight="bold" text-anchor="middle" fill="#111" textLength="3.5" lengthAdjust="spacing"  style="stroke-width:0.35px">3</text>
<text x="73.19" y="265.2" font-size="6.3" font-weight="bold" text-anchor="middle" fill="#111" textLength="3.5" lengthAdjust="spacing"  style="stroke-width:0.35px">4</text>
<text x="84.12" y="265.2" font-size="6.3" font-weight="bold" text-anchor="middle" fill="#111" textLength="3.5" lengthAdjust="spacing"  style="stroke-width:0.35px">6</text>
<text x="95.05" y="265.2" font-size="6.3" font-weight="bold" text-anchor="middle" fill="#111" textLength="3.5" lengthAdjust="spacing"  style="stroke-width:0.35px">8</text>
<text x="105.98" y="265.2" font-size="6.3" font-weight="bold" text-anchor="middle" fill="#111" textLength="7" lengthAdjust="spacing"  style="stroke-width:0.35px">12</text>
<text x="116.91" y="265.2" font-size="6.3" font-weight="bold" text-anchor="middle" fill="#111" textLength="7" lengthAdjust="spacing"  style="stroke-width:0.35px">16</text>
<text x="127.84" y="265.2" font-size="6.3" font-weight="bold" text-anchor="middle" fill="#111" textLength="7" lengthAdjust="spacing"  style="stroke-width:0.35px">20</text>
<text x="138.77" y="265.2" font-size="6.3" font-weight="bold" text-anchor="middle" fill="#111" textLength="7" lengthAdjust="spacing"  style="stroke-width:0.35px">24</text>
<text x="149.7" y="265.2" font-size="6.3" font-weight="bold" text-anchor="middle" fill="#111" textLength="7" lengthAdjust="spacing"  style="stroke-width:0.35px">36</text>
<text x="160.63" y="265.2" font-size="6.3" font-weight="bold" text-anchor="middle" fill="#111" textLength="7" lengthAdjust="spacing"  style="stroke-width:0.35px">48</text>
<text transform="translate(8.2,207.7) rotate(-90) scale(1,1)" x="0" y="0" font-size="7.7" font-weight="bold" text-anchor="middle" fill="#111" textLength="57.8" lengthAdjust="spacingAndGlyphs">% Donor cells</text>
<text transform="translate(64.5,272.2) scale(0.85,1)" x="0" y="0" font-size="7.2" font-weight="bold" fill="#111" textLength="70.94" lengthAdjust="spacing" style="stroke-width:0.25px">weeks after DLI</text>
<path d="M26.7,157.1 L33.9,157.1" stroke="#444" stroke-width="0.75"/>
<path d="M30.3,155.38 L32.02,157.1 L30.3,158.82 L28.57,157.1Z" fill="#000"/>
<text x="35" y="159.1" font-size="5.6" font-weight="bold" text-anchor="start" fill="#111" textLength="16.8" lengthAdjust="spacing" >n = 13</text>
<path d="M26.7,164.9 L33.9,164.9" stroke="#444" stroke-width="0.75"/>
<rect x="28.54" y="163.14" width="3.52" height="3.52" fill="#000"/>
<text x="35" y="166.9" font-size="5.6" font-weight="bold" text-anchor="start" fill="#111" textLength="13.2" lengthAdjust="spacing" >n = 8</text>
<path d="M26.7,172.5 L33.9,172.5" stroke="#444" stroke-width="0.75"/>
<path d="M30.3,170.66 L32.14,173.97 L28.46,173.97Z" fill="#000"/>
<text x="35" y="174.5" font-size="5.6" font-weight="bold" text-anchor="start" fill="#111" textLength="16.8" lengthAdjust="spacing" >n = 11</text>
<path d="M26.7,180.1 L33.9,180.1" stroke="#444" stroke-width="0.75"/>
<path d="M29.03,178.82 L31.57,181.38 M29.03,181.38 L31.57,178.82 M30.3,178.82 L30.3,181.38" stroke="#222" stroke-width="0.8" fill="none"/>
<text x="35" y="182.1" font-size="5.6" font-weight="bold" text-anchor="start" fill="#111" textLength="13.2" lengthAdjust="spacing" >n = 8</text>
<path d="M26.7,187.9 L33.9,187.9" stroke="#444" stroke-width="0.75"/>
<path d="M30.3,186.2 L32,187.9 L30.3,189.6 L28.6,187.9Z" fill="#fff" stroke="#333" stroke-width="0.65"/>
<text x="35" y="189.9" font-size="5.6" font-weight="bold" text-anchor="start" fill="#111" textLength="16.8" lengthAdjust="spacing" >n = 15</text>
<path d="M30.07,235.89 L30.07,226.74 M29.27,226.74 L30.87,226.74" stroke="#444" stroke-width="0.8" fill="none"/>
<path d="M41,231.23 L41,223.91 M40.2,223.91 L41.8,223.91" stroke="#444" stroke-width="0.8" fill="none"/>
<path d="M62.86,231.59 L62.86,226.1 M62.06,226.1 L63.66,226.1" stroke="#444" stroke-width="0.8" fill="none"/>
<path d="M73.79,230.5 L73.79,225.01 M72.99,225.01 L74.59,225.01" stroke="#444" stroke-width="0.8" fill="none"/>
<path d="M84.72,232.69 L84.72,227.2 M83.92,227.2 L85.52,227.2" stroke="#444" stroke-width="0.8" fill="none"/>
<path d="M95.65,234.52 L95.65,229.95 M94.85,229.95 L96.45,229.95" stroke="#444" stroke-width="0.8" fill="none"/>
<path d="M106.58,235.71 L106.58,231.14 M105.78,231.14 L107.38,231.14" stroke="#444" stroke-width="0.8" fill="none"/>
<path d="M51.93,237.91 L51.93,230.59 M51.13,230.59 L52.73,230.59" stroke="#444" stroke-width="0.8" fill="none"/>
<path d="M30.07,237.18 L30.07,227.11 M29.27,227.11 L30.87,227.11" stroke="#444" stroke-width="0.8" fill="none"/>
<path d="M41,233.52 L41,225.28 M40.2,225.28 L41.8,225.28" stroke="#444" stroke-width="0.8" fill="none"/>
<path d="M51.93,229.03 L51.93,219.88 M51.13,219.88 L52.73,219.88" stroke="#444" stroke-width="0.8" fill="none"/>
<path d="M62.86,221.16 L62.86,203.5 M62.06,203.5 L63.66,203.5" stroke="#444" stroke-width="0.8" fill="none"/>
<path d="M73.79,221.62 L73.79,203.5 M72.99,203.5 L74.59,203.5" stroke="#444" stroke-width="0.8" fill="none"/>
<path d="M84.72,218.78 L84.72,196.92 M83.92,196.92 L85.52,196.92" stroke="#444" stroke-width="0.8" fill="none"/>
<path d="M95.65,221.16 L95.65,199.2 M94.85,199.2 L96.45,199.2" stroke="#444" stroke-width="0.8" fill="none"/>
<path d="M106.58,224.18 L106.58,204.97 M105.78,204.97 L107.38,204.97" stroke="#444" stroke-width="0.8" fill="none"/>
<path d="M117.51,227.57 L117.51,210.91 M116.71,210.91 L118.31,210.91" stroke="#444" stroke-width="0.8" fill="none"/>
<path d="M128.44,230.5 L128.44,214.21 M127.64,214.21 L129.24,214.21" stroke="#444" stroke-width="0.8" fill="none"/>
<path d="M139.37,232.69 L139.37,217.23 M138.57,217.23 L140.17,217.23" stroke="#444" stroke-width="0.8" fill="none"/>
<path d="M150.3,238.82 L150.3,229.12 M149.5,229.12 L151.1,229.12" stroke="#444" stroke-width="0.8" fill="none"/>
<path d="M161.23,239.83 L161.23,231.5 M160.43,231.5 L162.03,231.5" stroke="#444" stroke-width="0.8" fill="none"/>
<path d="M51.93,201.76 L51.93,227.38 M51.13,227.38 L52.73,227.38" stroke="#444" stroke-width="0.8" fill="none"/>
<path d="M62.86,169.19 L62.86,176.6 M62.06,176.6 L63.66,176.6" stroke="#444" stroke-width="0.8" fill="none"/>
<path d="M73.79,166.08 L73.79,173.77 M72.99,173.77 L74.59,173.77" stroke="#444" stroke-width="0.8" fill="none"/>
<path d="M84.72,162.51 L84.72,166.17 M83.92,166.17 L85.52,166.17" stroke="#444" stroke-width="0.8" fill="none"/>
<path d="M95.65,161.23 L95.65,163.06 M94.85,163.06 L96.45,163.06" stroke="#444" stroke-width="0.8" fill="none"/>
<path d="M30.07,250.9 C31.38,250.9 38.37,250.9 41,250.9 C43.62,250.9 49.3,250.9 51.93,250.9 C54.55,250.9 60.23,250.9 62.86,250.9 C65.48,250.9 71.17,250.9 73.79,250.9 C76.41,250.9 82.1,250.9 84.72,250.9 C87.34,250.9 93.03,250.9 95.65,250.9 C98.27,250.9 103.96,250.9 106.58,250.9 C109.2,250.9 114.89,250.9 117.51,250.9 C120.13,250.9 125.82,250.9 128.44,250.9 C131.07,250.9 136.75,250.9 139.37,250.9 C142,250.9 147.68,250.9 150.3,250.9 C152.93,250.9 159.92,250.9 161.23,250.9" stroke="#777" stroke-width="0.75" fill="none"/>
<path d="M30.07,235.89 C31.38,235.33 38.37,231.67 41,231.23 C43.62,230.79 49.3,232.19 51.93,232.23 C54.55,232.28 60.23,231.8 62.86,231.59 C65.48,231.38 71.17,230.36 73.79,230.5 C76.41,230.63 82.1,232.21 84.72,232.69 C87.34,233.17 93.03,234.16 95.65,234.52 C98.27,234.88 103.96,235.5 106.58,235.71 C109.2,235.92 114.89,236.03 117.51,236.26 C120.13,236.49 125.82,237.14 128.44,237.63 C131.07,238.13 136.75,239.83 139.37,240.38 C142,240.93 147.68,241.82 150.3,242.21 C152.93,242.59 159.92,243.42 161.23,243.58" stroke="#3a3a3a" stroke-width="0.75" fill="none"/>
<path d="M30.07,237.63 C31.38,237.56 38.37,236.96 41,236.99 C43.62,237.02 49.3,237.86 51.93,237.91 C54.55,237.95 60.23,237.42 62.86,237.36 C65.48,237.29 71.17,237.19 73.79,237.36 C76.41,237.52 82.1,238.6 84.72,238.73 C87.34,238.86 93.03,238.55 95.65,238.46 C98.27,238.36 103.96,238.1 106.58,237.91 C109.2,237.71 114.89,236.75 117.51,236.81 C120.13,236.86 125.82,237.82 128.44,238.36 C131.07,238.91 136.75,240.86 139.37,241.38 C142,241.91 147.68,242.42 150.3,242.76 C152.93,243.1 159.92,244.04 161.23,244.22" stroke="#333" stroke-width="0.75" fill="none"/>
<path d="M30.07,237.18 C31.38,236.74 38.37,234.49 41,233.52 C43.62,232.54 49.3,230.51 51.93,229.03 C54.55,227.55 60.23,222.05 62.86,221.16 C65.48,220.27 71.17,221.91 73.79,221.62 C76.41,221.33 82.1,218.84 84.72,218.78 C87.34,218.73 93.03,220.51 95.65,221.16 C98.27,221.81 103.96,223.41 106.58,224.18 C109.2,224.95 114.89,226.81 117.51,227.57 C120.13,228.33 125.82,229.88 128.44,230.5 C131.07,231.11 136.75,231.69 139.37,232.69 C142,233.69 147.68,237.97 150.3,238.82 C152.93,239.68 159.92,239.71 161.23,239.83" stroke="#333" stroke-width="0.75" fill="none"/>
<path d="M30.07,237.18 C31.38,236.63 38.37,236.85 41,232.6 C43.62,228.35 49.3,209.37 51.93,201.76 C54.55,194.16 60.23,173.47 62.86,169.19 C65.48,164.91 71.17,166.88 73.79,166.08 C76.41,165.28 82.1,163.09 84.72,162.51 C87.34,161.93 93.03,161.49 95.65,161.23 C98.27,160.97 103.96,160.37 106.58,160.31 C109.2,160.26 114.89,160.72 117.51,160.77 C120.13,160.83 125.82,160.77 128.44,160.77 C131.07,160.77 136.75,160.83 139.37,160.77 C142,160.72 147.68,160.35 150.3,160.31 C152.93,160.28 159.92,160.48 161.23,160.5" stroke="#333" stroke-width="0.75" fill="none"/>
<circle cx="30.07" cy="250.9" r="1.5" fill="#fff" stroke="#333" stroke-width="0.7"/>
<circle cx="41" cy="250.9" r="1.5" fill="#fff" stroke="#333" stroke-width="0.7"/>
<circle cx="51.93" cy="250.9" r="1.5" fill="#fff" stroke="#333" stroke-width="0.7"/>
<circle cx="62.86" cy="250.9" r="1.5" fill="#fff" stroke="#333" stroke-width="0.7"/>
<circle cx="73.79" cy="250.9" r="1.5" fill="#fff" stroke="#333" stroke-width="0.7"/>
<circle cx="84.72" cy="250.9" r="1.5" fill="#fff" stroke="#333" stroke-width="0.7"/>
<circle cx="95.65" cy="250.9" r="1.5" fill="#fff" stroke="#333" stroke-width="0.7"/>
<circle cx="106.58" cy="250.9" r="1.5" fill="#fff" stroke="#333" stroke-width="0.7"/>
<circle cx="117.51" cy="250.9" r="1.5" fill="#fff" stroke="#333" stroke-width="0.7"/>
<circle cx="128.44" cy="250.9" r="1.5" fill="#fff" stroke="#333" stroke-width="0.7"/>
<circle cx="139.37" cy="250.9" r="1.5" fill="#fff" stroke="#333" stroke-width="0.7"/>
<circle cx="150.3" cy="250.9" r="1.5" fill="#fff" stroke="#333" stroke-width="0.7"/>
<circle cx="161.23" cy="250.9" r="1.5" fill="#fff" stroke="#333" stroke-width="0.7"/>
<path d="M28.57,234.39 L31.57,237.39 M28.57,237.39 L31.57,234.39 M30.07,234.39 L30.07,237.39" stroke="#222" stroke-width="0.8" fill="none"/>
<path d="M39.5,229.73 L42.5,232.73 M39.5,232.73 L42.5,229.73 M41,229.73 L41,232.73" stroke="#222" stroke-width="0.8" fill="none"/>
<path d="M50.43,230.73 L53.43,233.73 M50.43,233.73 L53.43,230.73 M51.93,230.73 L51.93,233.73" stroke="#222" stroke-width="0.8" fill="none"/>
<path d="M61.36,230.09 L64.36,233.09 M61.36,233.09 L64.36,230.09 M62.86,230.09 L62.86,233.09" stroke="#222" stroke-width="0.8" fill="none"/>
<path d="M72.29,229 L75.29,232 M72.29,232 L75.29,229 M73.79,229 L73.79,232" stroke="#222" stroke-width="0.8" fill="none"/>
<path d="M83.22,231.19 L86.22,234.19 M83.22,234.19 L86.22,231.19 M84.72,231.19 L84.72,234.19" stroke="#222" stroke-width="0.8" fill="none"/>
<path d="M94.15,233.02 L97.15,236.02 M94.15,236.02 L97.15,233.02 M95.65,233.02 L95.65,236.02" stroke="#222" stroke-width="0.8" fill="none"/>
<path d="M105.08,234.21 L108.08,237.21 M105.08,237.21 L108.08,234.21 M106.58,234.21 L106.58,237.21" stroke="#222" stroke-width="0.8" fill="none"/>
<path d="M116.01,234.76 L119.01,237.76 M116.01,237.76 L119.01,234.76 M117.51,234.76 L117.51,237.76" stroke="#222" stroke-width="0.8" fill="none"/>
<path d="M126.94,236.13 L129.94,239.13 M126.94,239.13 L129.94,236.13 M128.44,236.13 L128.44,239.13" stroke="#222" stroke-width="0.8" fill="none"/>
<path d="M137.87,238.88 L140.87,241.88 M137.87,241.88 L140.87,238.88 M139.37,238.88 L139.37,241.88" stroke="#222" stroke-width="0.8" fill="none"/>
<path d="M148.8,240.71 L151.8,243.71 M148.8,243.71 L151.8,240.71 M150.3,240.71 L150.3,243.71" stroke="#222" stroke-width="0.8" fill="none"/>
<path d="M159.73,242.08 L162.73,245.08 M159.73,245.08 L162.73,242.08 M161.23,242.08 L161.23,245.08" stroke="#222" stroke-width="0.8" fill="none"/>
<path d="M30.07,235.33 L32.37,239.47 L27.77,239.47Z" fill="#000"/>
<path d="M41,234.69 L43.3,238.83 L38.7,238.83Z" fill="#000"/>
<path d="M51.93,235.61 L54.23,239.75 L49.63,239.75Z" fill="#000"/>
<path d="M62.86,235.06 L65.16,239.2 L60.56,239.2Z" fill="#000"/>
<path d="M73.79,235.06 L76.09,239.2 L71.49,239.2Z" fill="#000"/>
<path d="M84.72,236.43 L87.02,240.57 L82.42,240.57Z" fill="#000"/>
<path d="M95.65,236.16 L97.95,240.3 L93.35,240.3Z" fill="#000"/>
<path d="M106.58,235.61 L108.88,239.75 L104.28,239.75Z" fill="#000"/>
<path d="M117.51,234.51 L119.81,238.65 L115.21,238.65Z" fill="#000"/>
<path d="M128.44,236.06 L130.74,240.2 L126.14,240.2Z" fill="#000"/>
<path d="M139.37,239.08 L141.67,243.22 L137.07,243.22Z" fill="#000"/>
<path d="M150.3,240.46 L152.6,244.6 L148,244.6Z" fill="#000"/>
<path d="M161.23,241.92 L163.53,246.06 L158.93,246.06Z" fill="#000"/>
<rect x="28.22" y="235.33" width="3.7" height="3.7" fill="#000"/>
<rect x="39.15" y="231.67" width="3.7" height="3.7" fill="#000"/>
<rect x="50.08" y="227.18" width="3.7" height="3.7" fill="#000"/>
<rect x="61.01" y="219.31" width="3.7" height="3.7" fill="#000"/>
<rect x="71.94" y="219.77" width="3.7" height="3.7" fill="#000"/>
<rect x="82.87" y="216.93" width="3.7" height="3.7" fill="#000"/>
<rect x="93.8" y="219.31" width="3.7" height="3.7" fill="#000"/>
<rect x="104.73" y="222.33" width="3.7" height="3.7" fill="#000"/>
<rect x="115.66" y="225.72" width="3.7" height="3.7" fill="#000"/>
<rect x="126.59" y="228.65" width="3.7" height="3.7" fill="#000"/>
<rect x="137.52" y="230.84" width="3.7" height="3.7" fill="#000"/>
<rect x="148.45" y="236.97" width="3.7" height="3.7" fill="#000"/>
<rect x="159.38" y="237.98" width="3.7" height="3.7" fill="#000"/>
<path d="M30.07,234.88 L32.37,237.18 L30.07,239.48 L27.77,237.18Z" fill="#000"/>
<path d="M41,230.3 L43.3,232.6 L41,234.9 L38.7,232.6Z" fill="#000"/>
<path d="M51.93,199.46 L54.23,201.76 L51.93,204.06 L49.63,201.76Z" fill="#000"/>
<path d="M62.86,166.89 L65.16,169.19 L62.86,171.49 L60.56,169.19Z" fill="#000"/>
<path d="M73.79,163.78 L76.09,166.08 L73.79,168.38 L71.49,166.08Z" fill="#000"/>
<path d="M84.72,160.21 L87.02,162.51 L84.72,164.81 L82.42,162.51Z" fill="#000"/>
<path d="M95.65,158.93 L97.95,161.23 L95.65,163.53 L93.35,161.23Z" fill="#000"/>
<path d="M106.58,158.01 L108.88,160.31 L106.58,162.62 L104.28,160.31Z" fill="#000"/>
<path d="M117.51,158.47 L119.81,160.77 L117.51,163.07 L115.21,160.77Z" fill="#000"/>
<path d="M128.44,158.47 L130.74,160.77 L128.44,163.07 L126.14,160.77Z" fill="#000"/>
<path d="M139.37,158.47 L141.67,160.77 L139.37,163.07 L137.07,160.77Z" fill="#000"/>
<path d="M150.3,158.01 L152.6,160.31 L150.3,162.62 L148,160.31Z" fill="#000"/>
<path d="M161.23,158.2 L163.53,160.5 L161.23,162.8 L158.93,160.5Z" fill="#000"/>
</g>
<g>
<text x="181.2" y="150.6" font-size="10.4" font-weight="bold" text-anchor="start" fill="#111" textLength="7" lengthAdjust="spacingAndGlyphs" >E</text>
<text x="215.8" y="147.7" font-size="6.3" font-weight="bold" text-anchor="start" fill="#111" textLength="116.1" lengthAdjust="spacingAndGlyphs" >4 week old, SJL/J -&gt; B6 chimeric mice</text>
<path d="M205.7,160.2 L205.7,252.8" stroke="#555" stroke-width="0.9" fill="none"/>
<path d="M202.7,250.6 L344.7,250.6" stroke="#555" stroke-width="0.9" fill="none"/>
<path d="M202.7,232.52 L205.7,232.52" stroke="#555" stroke-width="0.9"/>
<path d="M202.7,214.44 L205.7,214.44" stroke="#555" stroke-width="0.9"/>
<path d="M202.7,196.36 L205.7,196.36" stroke="#555" stroke-width="0.9"/>
<path d="M202.7,178.28 L205.7,178.28" stroke="#555" stroke-width="0.9"/>
<path d="M202.7,160.2 L205.7,160.2" stroke="#555" stroke-width="0.9"/>
<path d="M223.07,250.6 L223.07,252.8" stroke="#555" stroke-width="0.8"/>
<path d="M240.45,250.6 L240.45,252.8" stroke="#555" stroke-width="0.8"/>
<path d="M257.82,250.6 L257.82,252.8" stroke="#555" stroke-width="0.8"/>
<path d="M275.2,250.6 L275.2,252.8" stroke="#555" stroke-width="0.8"/>
<path d="M292.57,250.6 L292.57,252.8" stroke="#555" stroke-width="0.8"/>
<path d="M309.95,250.6 L309.95,252.8" stroke="#555" stroke-width="0.8"/>
<path d="M327.32,250.6 L327.32,252.8" stroke="#555" stroke-width="0.8"/>
<path d="M344.7,250.6 L344.7,252.8" stroke="#555" stroke-width="0.8"/>
<text x="199.3" y="252" font-size="5.8" font-weight="bold" text-anchor="end" fill="#111" textLength="3.45" lengthAdjust="spacing"  style="stroke-width:0.32px">0</text>
<text x="199.3" y="233.92" font-size="5.8" font-weight="bold" text-anchor="end" fill="#111" textLength="6.9" lengthAdjust="spacing"  style="stroke-width:0.32px">20</text>
<text x="199.3" y="215.84" font-size="5.8" font-weight="bold" text-anchor="end" fill="#111" textLength="6.9" lengthAdjust="spacing"  style="stroke-width:0.32px">40</text>
<text x="199.3" y="197.76" font-size="5.8" font-weight="bold" text-anchor="end" fill="#111" textLength="6.9" lengthAdjust="spacing"  style="stroke-width:0.32px">60</text>
<text x="199.3" y="179.68" font-size="5.8" font-weight="bold" text-anchor="end" fill="#111" textLength="6.9" lengthAdjust="spacing"  style="stroke-width:0.32px">80</text>
<text x="199.3" y="161.6" font-size="5.8" font-weight="bold" text-anchor="end" fill="#111" textLength="10.35" lengthAdjust="spacing"  style="stroke-width:0.32px">100</text>
<text x="213.49" y="262.8" font-size="6" font-weight="bold" text-anchor="middle" fill="#111" textLength="3.4" lengthAdjust="spacing"  style="stroke-width:0.35px">0</text>
<text x="230.86" y="262.8" font-size="6" font-weight="bold" text-anchor="middle" fill="#111" textLength="3.4" lengthAdjust="spacing"  style="stroke-width:0.35px">2</text>
<text x="248.24" y="262.8" font-size="6" font-weight="bold" text-anchor="middle" fill="#111" textLength="3.4" lengthAdjust="spacing"  style="stroke-width:0.35px">4</text>
<text x="265.61" y="262.8" font-size="6" font-weight="bold" text-anchor="middle" fill="#111" textLength="3.4" lengthAdjust="spacing"  style="stroke-width:0.35px">8</text>
<text x="282.99" y="262.8" font-size="6" font-weight="bold" text-anchor="middle" fill="#111" textLength="6.8" lengthAdjust="spacing"  style="stroke-width:0.35px">12</text>
<text x="300.36" y="262.8" font-size="6" font-weight="bold" text-anchor="middle" fill="#111" textLength="6.8" lengthAdjust="spacing"  style="stroke-width:0.35px">16</text>
<text x="317.74" y="262.8" font-size="6" font-weight="bold" text-anchor="middle" fill="#111" textLength="6.8" lengthAdjust="spacing"  style="stroke-width:0.35px">20</text>
<text x="335.11" y="262.8" font-size="6" font-weight="bold" text-anchor="middle" fill="#111" textLength="6.8" lengthAdjust="spacing"  style="stroke-width:0.35px">24</text>
<text transform="translate(188.2,205.2) rotate(-90) scale(1,1)" x="0" y="0" font-size="7.6" font-weight="bold" text-anchor="middle" fill="#111" textLength="55.1" lengthAdjust="spacingAndGlyphs">% Donor cells</text>
<text transform="translate(250.6,271.6) scale(1,1)" x="0" y="0" font-size="7.8" font-weight="bold" fill="#111" textLength="58.8" lengthAdjust="spacing" style="stroke-width:0.3px">Weeks after DLI</text>
<path d="M313.9,221.6 L321.1,221.6" stroke="#444" stroke-width="0.75"/>
<path d="M317.5,219.88 L319.23,221.6 L317.5,223.32 L315.77,221.6Z" fill="#000"/>
<text x="324.8" y="223.5" font-size="5.3" font-weight="bold" text-anchor="start" fill="#111" textLength="13.2" lengthAdjust="spacing" >n = 6</text>
<path d="M313.9,228.5 L321.1,228.5" stroke="#444" stroke-width="0.75"/>
<rect x="315.74" y="226.74" width="3.52" height="3.52" fill="#000"/>
<text x="324.8" y="230.4" font-size="5.3" font-weight="bold" text-anchor="start" fill="#111" textLength="13.2" lengthAdjust="spacing" >n = 7</text>
<path d="M313.9,235.8 L321.1,235.8" stroke="#999" stroke-width="0.75"/>
<text x="324.8" y="237.7" font-size="5.3" font-weight="bold" text-anchor="start" fill="#111" textLength="13.2" lengthAdjust="spacing" >n = 6</text>
<path d="M231.76,249.52 L249.14,249.7 L266.51,249.52 L283.89,249.52 L301.26,249.42 L318.64,249.7 L336.01,249.42" stroke="#999" stroke-width="1.2" fill="none"/>
<path d="M214.39,249.7 L231.76,248.25 L249.14,247.89 L266.51,248.25 L283.89,248.07 L301.26,248.07 L318.64,248.07 L336.01,248.61" stroke="#333" stroke-width="0.9" fill="none"/>
<path d="M214.39,249.24 L231.76,161.65 L249.14,160.2 L266.51,160.2 L283.89,160.2 L301.26,160.2 L318.64,160.2 L336.01,160.2" stroke="#111" stroke-width="1.1" fill="none"/>
<rect x="213.19" y="248.5" width="2.4" height="2.4" fill="#111"/>
<rect x="230.56" y="247.05" width="2.4" height="2.4" fill="#111"/>
<rect x="247.94" y="246.69" width="2.4" height="2.4" fill="#111"/>
<rect x="265.31" y="247.05" width="2.4" height="2.4" fill="#111"/>
<rect x="282.69" y="246.87" width="2.4" height="2.4" fill="#111"/>
<rect x="300.06" y="246.87" width="2.4" height="2.4" fill="#111"/>
<rect x="317.44" y="246.87" width="2.4" height="2.4" fill="#111"/>
<rect x="334.81" y="247.41" width="2.4" height="2.4" fill="#111"/>
<circle cx="214.39" cy="249.24" r="2.2" fill="#000"/>
<circle cx="231.76" cy="161.65" r="2.2" fill="#000"/>
<circle cx="249.14" cy="160.2" r="2.2" fill="#000"/>
<circle cx="266.51" cy="160.2" r="2.2" fill="#000"/>
<circle cx="283.89" cy="160.2" r="2.2" fill="#000"/>
<circle cx="301.26" cy="160.2" r="2.2" fill="#000"/>
<circle cx="318.64" cy="160.2" r="2.2" fill="#000"/>
<circle cx="336.01" cy="160.2" r="2.2" fill="#000"/>
</g>
<rect x="395" y="172.2" width="112.6" height="71.5" fill="#fff" stroke="#888" stroke-width="1.0"/>
<path d="M410.6,180.5 L421.8,180.5" stroke="#333" stroke-width="0.8"/>
<path d="M416.6,177.51 L419.59,180.5 L416.6,183.49 L413.61,180.5Z" fill="#000"/>
<path d="M410.6,193.2 L421.8,193.2" stroke="#333" stroke-width="0.8"/>
<rect x="414.29" y="190.89" width="4.62" height="4.62" fill="#000"/>
<path d="M410.6,204.5 L421.8,204.5" stroke="#333" stroke-width="0.8"/>
<path d="M416.6,201.74 L419.36,206.71 L413.84,206.71Z" fill="#000"/>
<path d="M410.6,215.4 L421.8,215.4" stroke="#333" stroke-width="0.8"/>
<path d="M414.8,213.6 L418.4,217.2 M414.8,217.2 L418.4,213.6 M416.6,213.6 L416.6,217.2" stroke="#222" stroke-width="0.8" fill="none"/>
<path d="M410.6,226.9 L421.8,226.9" stroke="#333" stroke-width="0.8"/>
<path d="M416.6,224.9 L418.6,226.9 L416.6,228.9 L414.6,226.9Z" fill="#fff" stroke="#333" stroke-width="0.7"/>
<text x="427.4" y="182.6" font-size="7.2" font-weight="bold" fill="#111" style="stroke-width:0">30 x 10<tspan font-size="4.6" dy="-2.8">6</tspan><tspan dy="2.8"> splenocytes</tspan></text>
<text x="427.7" y="195.6" font-size="7.2" font-weight="bold" fill="#111" style="stroke-width:0">15 x 10<tspan font-size="4.6" dy="-2.8">6</tspan><tspan dy="2.8"> splenocytes</tspan></text>
<text x="431.5" y="207.1" font-size="7.2" font-weight="bold" fill="#111" style="stroke-width:0">5 x 10<tspan font-size="4.6" dy="-2.8">6</tspan><tspan dy="2.8"> splenocytes</tspan></text>
<text x="444.9" y="217.6" font-size="7.2" font-weight="bold" text-anchor="start" fill="#111" textLength="14.8" lengthAdjust="spacingAndGlyphs" style="stroke-width:0">PBS</text>
<text x="426.9" y="229.8" font-size="7.2" font-weight="bold" fill="#111" style="stroke-width:0">30 x 10<tspan font-size="4.6" dy="-2.8">6</tspan><tspan dy="2.8"> splenocytes</tspan></text>
<text x="442" y="238.2" font-size="7.2" font-weight="bold" text-anchor="start" fill="#111" textLength="41.1" lengthAdjust="spacingAndGlyphs" style="stroke-width:0">(naive mice)</text>
</svg>
</body></html>
